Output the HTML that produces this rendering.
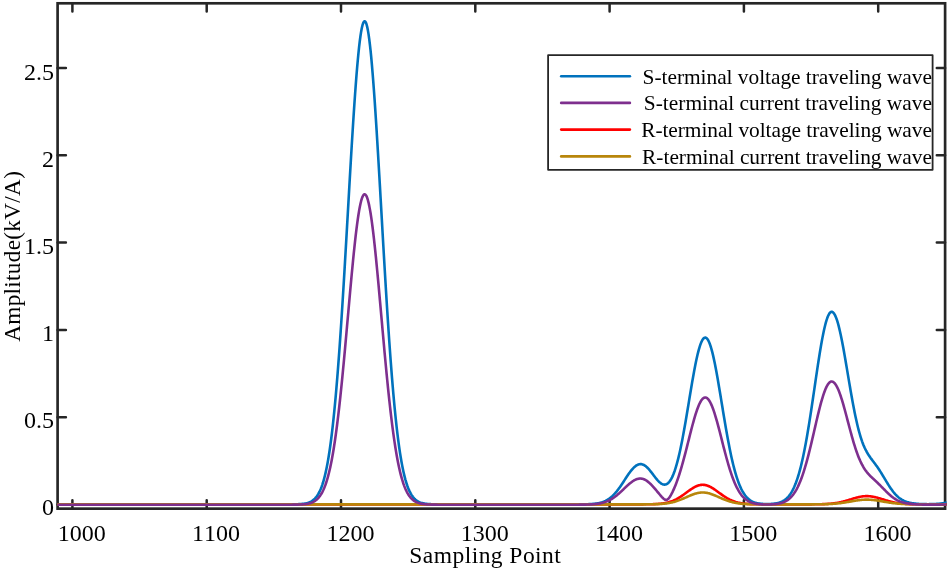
<!DOCTYPE html>
<html lang="en"><head><meta charset="utf-8"><title>Traveling wave amplitude</title>
<style>html,body{margin:0;padding:0;background:#fff;}svg{display:block;}text{font-kerning:none;font-family:"Liberation Serif","Times New Roman",serif;fill:#000;}</style></head><body>
<svg width="948" height="570" viewBox="0 0 948 570">
<rect width="948" height="570" fill="#fff"/>
<defs><clipPath id="c"><rect x="57.60" y="3.30" width="889.00" height="505.35"/></clipPath></defs>
<g stroke="#262626" stroke-width="2.50" fill="none" stroke-linecap="round">
<path d="M72.40,508.65 v-8.30 M72.40,3.30 v8.30"/>
<path d="M206.70,508.65 v-8.30 M206.70,3.30 v8.30"/>
<path d="M341.00,508.65 v-8.30 M341.00,3.30 v8.30"/>
<path d="M475.30,508.65 v-8.30 M475.30,3.30 v8.30"/>
<path d="M609.60,508.65 v-8.30 M609.60,3.30 v8.30"/>
<path d="M743.90,508.65 v-8.30 M743.90,3.30 v8.30"/>
<path d="M878.20,508.65 v-8.30 M878.20,3.30 v8.30"/>
<path d="M57.60,504.50 h8.30 M945.10,504.50 h-8.30"/>
<path d="M57.60,417.20 h8.30 M945.10,417.20 h-8.30"/>
<path d="M57.60,329.90 h8.30 M945.10,329.90 h-8.30"/>
<path d="M57.60,242.60 h8.30 M945.10,242.60 h-8.30"/>
<path d="M57.60,155.30 h8.30 M945.10,155.30 h-8.30"/>
<path d="M57.60,68.00 h8.30 M945.10,68.00 h-8.30"/>
</g>
<rect x="57.60" y="3.30" width="887.50" height="505.35" fill="none" stroke="#262626" stroke-width="2.67"/>
<g fill="none" stroke-width="2.60" stroke-linejoin="round" clip-path="url(#c)">
<path d="M52.26,504.35 L52.93,504.35 L53.60,504.35 L54.27,504.35 L54.94,504.35 L55.61,504.35 L56.28,504.35 L56.96,504.35 L57.63,504.35 L58.30,504.35 L58.97,504.35 L59.64,504.35 L60.31,504.35 L60.98,504.35 L61.66,504.35 L62.33,504.35 L63.00,504.35 L63.67,504.35 L64.34,504.35 L65.01,504.35 L65.69,504.35 L66.36,504.35 L67.03,504.35 L67.70,504.35 L68.37,504.35 L69.04,504.35 L69.71,504.35 L70.39,504.35 L71.06,504.35 L71.73,504.35 L72.40,504.35 L73.07,504.35 L73.74,504.35 L74.41,504.35 L75.09,504.35 L75.76,504.35 L76.43,504.35 L77.10,504.35 L77.77,504.35 L78.44,504.35 L79.12,504.35 L79.79,504.35 L80.46,504.35 L81.13,504.35 L81.80,504.35 L82.47,504.35 L83.14,504.35 L83.82,504.35 L84.49,504.35 L85.16,504.35 L85.83,504.35 L86.50,504.35 L87.17,504.35 L87.84,504.35 L88.52,504.35 L89.19,504.35 L89.86,504.35 L90.53,504.35 L91.20,504.35 L91.87,504.35 L92.55,504.35 L93.22,504.35 L93.89,504.35 L94.56,504.35 L95.23,504.35 L95.90,504.35 L96.57,504.35 L97.25,504.35 L97.92,504.35 L98.59,504.35 L99.26,504.35 L99.93,504.35 L100.60,504.35 L101.27,504.35 L101.95,504.35 L102.62,504.35 L103.29,504.35 L103.96,504.35 L104.63,504.35 L105.30,504.35 L105.98,504.35 L106.65,504.35 L107.32,504.35 L107.99,504.35 L108.66,504.35 L109.33,504.35 L110.00,504.35 L110.68,504.35 L111.35,504.35 L112.02,504.35 L112.69,504.35 L113.36,504.35 L114.03,504.35 L114.70,504.35 L115.38,504.35 L116.05,504.35 L116.72,504.35 L117.39,504.35 L118.06,504.35 L118.73,504.35 L119.41,504.35 L120.08,504.35 L120.75,504.35 L121.42,504.35 L122.09,504.35 L122.76,504.35 L123.43,504.35 L124.11,504.35 L124.78,504.35 L125.45,504.35 L126.12,504.35 L126.79,504.35 L127.46,504.35 L128.13,504.35 L128.81,504.35 L129.48,504.35 L130.15,504.35 L130.82,504.35 L131.49,504.35 L132.16,504.35 L132.84,504.35 L133.51,504.35 L134.18,504.35 L134.85,504.35 L135.52,504.35 L136.19,504.35 L136.86,504.35 L137.54,504.35 L138.21,504.35 L138.88,504.35 L139.55,504.35 L140.22,504.35 L140.89,504.35 L141.56,504.35 L142.24,504.35 L142.91,504.35 L143.58,504.35 L144.25,504.35 L144.92,504.35 L145.59,504.35 L146.26,504.35 L146.94,504.35 L147.61,504.35 L148.28,504.35 L148.95,504.35 L149.62,504.35 L150.29,504.35 L150.97,504.35 L151.64,504.35 L152.31,504.35 L152.98,504.35 L153.65,504.35 L154.32,504.35 L154.99,504.35 L155.67,504.35 L156.34,504.35 L157.01,504.35 L157.68,504.35 L158.35,504.35 L159.02,504.35 L159.69,504.35 L160.37,504.35 L161.04,504.35 L161.71,504.35 L162.38,504.35 L163.05,504.35 L163.72,504.35 L164.40,504.35 L165.07,504.35 L165.74,504.35 L166.41,504.35 L167.08,504.35 L167.75,504.35 L168.42,504.35 L169.10,504.35 L169.77,504.35 L170.44,504.35 L171.11,504.35 L171.78,504.35 L172.45,504.35 L173.12,504.35 L173.80,504.35 L174.47,504.35 L175.14,504.35 L175.81,504.35 L176.48,504.35 L177.15,504.35 L177.83,504.35 L178.50,504.35 L179.17,504.35 L179.84,504.35 L180.51,504.35 L181.18,504.35 L181.85,504.35 L182.53,504.35 L183.20,504.35 L183.87,504.35 L184.54,504.35 L185.21,504.35 L185.88,504.35 L186.56,504.35 L187.23,504.35 L187.90,504.35 L188.57,504.35 L189.24,504.35 L189.91,504.35 L190.58,504.35 L191.26,504.35 L191.93,504.35 L192.60,504.35 L193.27,504.35 L193.94,504.35 L194.61,504.35 L195.28,504.35 L195.96,504.35 L196.63,504.35 L197.30,504.35 L197.97,504.35 L198.64,504.35 L199.31,504.35 L199.99,504.35 L200.66,504.35 L201.33,504.35 L202.00,504.35 L202.67,504.35 L203.34,504.35 L204.01,504.35 L204.69,504.35 L205.36,504.35 L206.03,504.35 L206.70,504.35 L207.37,504.35 L208.04,504.35 L208.71,504.35 L209.39,504.35 L210.06,504.35 L210.73,504.35 L211.40,504.35 L212.07,504.35 L212.74,504.35 L213.41,504.35 L214.09,504.35 L214.76,504.35 L215.43,504.35 L216.10,504.35 L216.77,504.35 L217.44,504.35 L218.12,504.35 L218.79,504.35 L219.46,504.35 L220.13,504.35 L220.80,504.35 L221.47,504.35 L222.14,504.35 L222.82,504.35 L223.49,504.35 L224.16,504.35 L224.83,504.35 L225.50,504.35 L226.17,504.35 L226.84,504.35 L227.52,504.35 L228.19,504.35 L228.86,504.35 L229.53,504.35 L230.20,504.35 L230.87,504.35 L231.55,504.35 L232.22,504.35 L232.89,504.35 L233.56,504.35 L234.23,504.35 L234.90,504.35 L235.57,504.35 L236.25,504.35 L236.92,504.35 L237.59,504.35 L238.26,504.35 L238.93,504.35 L239.60,504.35 L240.28,504.35 L240.95,504.35 L241.62,504.35 L242.29,504.35 L242.96,504.35 L243.63,504.35 L244.30,504.35 L244.98,504.35 L245.65,504.35 L246.32,504.35 L246.99,504.35 L247.66,504.35 L248.33,504.35 L249.00,504.35 L249.68,504.35 L250.35,504.35 L251.02,504.35 L251.69,504.35 L252.36,504.35 L253.03,504.35 L253.71,504.35 L254.38,504.35 L255.05,504.35 L255.72,504.35 L256.39,504.35 L257.06,504.35 L257.73,504.35 L258.41,504.35 L259.08,504.35 L259.75,504.35 L260.42,504.35 L261.09,504.35 L261.76,504.35 L262.43,504.35 L263.11,504.35 L263.78,504.35 L264.45,504.35 L265.12,504.35 L265.79,504.35 L266.46,504.35 L267.13,504.35 L267.81,504.35 L268.48,504.35 L269.15,504.35 L269.82,504.35 L270.49,504.35 L271.16,504.35 L271.84,504.35 L272.51,504.35 L273.18,504.35 L273.85,504.35 L274.52,504.35 L275.19,504.35 L275.86,504.35 L276.54,504.35 L277.21,504.35 L277.88,504.35 L278.55,504.35 L279.22,504.35 L279.89,504.35 L280.56,504.35 L281.24,504.35 L281.91,504.35 L282.58,504.35 L283.25,504.35 L283.92,504.35 L284.59,504.34 L285.27,504.34 L285.94,504.34 L286.61,504.34 L287.28,504.34 L287.95,504.34 L288.62,504.33 L289.29,504.33 L289.97,504.33 L290.64,504.32 L291.31,504.32 L291.98,504.31 L292.65,504.30 L293.32,504.30 L294.00,504.29 L294.67,504.27 L295.34,504.26 L296.01,504.24 L296.68,504.22 L297.35,504.20 L298.02,504.18 L298.70,504.15 L299.37,504.11 L300.04,504.07 L300.71,504.03 L301.38,503.97 L302.05,503.91 L302.72,503.84 L303.40,503.76 L304.07,503.67 L304.74,503.56 L305.41,503.44 L306.08,503.30 L306.75,503.14 L307.43,502.96 L308.10,502.76 L308.77,502.53 L309.44,502.27 L310.11,501.98 L310.78,501.65 L311.45,501.28 L312.13,500.86 L312.80,500.40 L313.47,499.88 L314.14,499.30 L314.81,498.65 L315.48,497.93 L316.15,497.13 L316.83,496.25 L317.50,495.27 L318.17,494.19 L318.84,493.00 L319.51,491.69 L320.18,490.25 L320.86,488.68 L321.53,486.95 L322.20,485.07 L322.87,483.02 L323.54,480.78 L324.21,478.36 L324.88,475.73 L325.56,472.89 L326.23,469.82 L326.90,466.52 L327.57,462.96 L328.24,459.14 L328.91,455.05 L329.58,450.68 L330.26,446.01 L330.93,441.04 L331.60,435.76 L332.27,430.15 L332.94,424.22 L333.61,417.95 L334.28,411.34 L334.96,404.39 L335.63,397.09 L336.30,389.44 L336.97,381.45 L337.64,373.11 L338.31,364.43 L338.99,355.42 L339.66,346.08 L340.33,336.43 L341.00,326.48 L341.67,316.24 L342.34,305.73 L343.01,294.98 L343.69,283.99 L344.36,272.81 L345.03,261.45 L345.70,249.94 L346.37,238.32 L347.04,226.61 L347.72,214.85 L348.39,203.09 L349.06,191.35 L349.73,179.68 L350.40,168.11 L351.07,156.70 L351.74,145.47 L352.42,134.49 L353.09,123.77 L353.76,113.38 L354.43,103.36 L355.10,93.74 L355.77,84.56 L356.44,75.88 L357.12,67.71 L357.79,60.11 L358.46,53.11 L359.13,46.73 L359.80,41.01 L360.47,35.98 L361.14,31.65 L361.82,28.06 L362.49,25.20 L363.16,23.11 L363.83,21.79 L364.50,21.25 L365.17,21.48 L365.85,22.49 L366.52,24.28 L367.19,26.83 L367.86,30.13 L368.53,34.16 L369.20,38.92 L369.87,44.36 L370.55,50.48 L371.22,57.24 L371.89,64.60 L372.56,72.55 L373.23,81.03 L373.90,90.01 L374.58,99.46 L375.25,109.33 L375.92,119.58 L376.59,130.17 L377.26,141.05 L377.93,152.18 L378.60,163.53 L379.28,175.04 L379.95,186.67 L380.62,198.39 L381.29,210.15 L381.96,221.91 L382.63,233.64 L383.30,245.30 L383.98,256.86 L384.65,268.28 L385.32,279.54 L385.99,290.61 L386.66,301.46 L387.33,312.07 L388.00,322.42 L388.68,332.49 L389.35,342.26 L390.02,351.72 L390.69,360.87 L391.36,369.68 L392.03,378.15 L392.71,386.29 L393.38,394.07 L394.05,401.51 L394.72,408.60 L395.39,415.35 L396.06,421.75 L396.73,427.82 L397.41,433.56 L398.08,438.97 L398.75,444.06 L399.42,448.85 L400.09,453.34 L400.76,457.54 L401.43,461.47 L402.11,465.13 L402.78,468.53 L403.45,471.69 L404.12,474.62 L404.79,477.33 L405.46,479.84 L406.14,482.15 L406.81,484.27 L407.48,486.22 L408.15,488.00 L408.82,489.64 L409.49,491.13 L410.16,492.49 L410.84,493.73 L411.51,494.85 L412.18,495.87 L412.85,496.79 L413.52,497.62 L414.19,498.37 L414.87,499.05 L415.54,499.65 L416.21,500.20 L416.88,500.68 L417.55,501.12 L418.22,501.51 L418.89,501.85 L419.57,502.16 L420.24,502.43 L420.91,502.67 L421.58,502.89 L422.25,503.07 L422.92,503.24 L423.59,503.39 L424.27,503.51 L424.94,503.63 L425.61,503.72 L426.28,503.81 L426.95,503.88 L427.62,503.95 L428.29,504.01 L428.97,504.06 L429.64,504.10 L430.31,504.13 L430.98,504.17 L431.65,504.19 L432.32,504.22 L433.00,504.24 L433.67,504.25 L434.34,504.27 L435.01,504.28 L435.68,504.29 L436.35,504.30 L437.02,504.31 L437.70,504.32 L438.37,504.32 L439.04,504.33 L439.71,504.33 L440.38,504.33 L441.05,504.34 L441.73,504.34 L442.40,504.34 L443.07,504.34 L443.74,504.34 L444.41,504.34 L445.08,504.35 L445.75,504.35 L446.43,504.35 L447.10,504.35 L447.77,504.35 L448.44,504.35 L449.11,504.35 L449.78,504.35 L450.45,504.35 L451.13,504.35 L451.80,504.35 L452.47,504.35 L453.14,504.35 L453.81,504.35 L454.48,504.35 L455.15,504.35 L455.83,504.35 L456.50,504.35 L457.17,504.35 L457.84,504.35 L458.51,504.35 L459.18,504.35 L459.86,504.35 L460.53,504.35 L461.20,504.35 L461.87,504.35 L462.54,504.35 L463.21,504.35 L463.88,504.35 L464.56,504.35 L465.23,504.35 L465.90,504.35 L466.57,504.35 L467.24,504.35 L467.91,504.35 L468.59,504.35 L469.26,504.35 L469.93,504.35 L470.60,504.35 L471.27,504.35 L471.94,504.35 L472.61,504.35 L473.29,504.35 L473.96,504.35 L474.63,504.35 L475.30,504.35 L475.97,504.35 L476.64,504.35 L477.31,504.35 L477.99,504.35 L478.66,504.35 L479.33,504.35 L480.00,504.35 L480.67,504.35 L481.34,504.35 L482.01,504.35 L482.69,504.35 L483.36,504.35 L484.03,504.35 L484.70,504.35 L485.37,504.35 L486.04,504.35 L486.72,504.35 L487.39,504.35 L488.06,504.35 L488.73,504.35 L489.40,504.35 L490.07,504.35 L490.74,504.35 L491.42,504.35 L492.09,504.35 L492.76,504.35 L493.43,504.35 L494.10,504.35 L494.77,504.35 L495.45,504.35 L496.12,504.35 L496.79,504.35 L497.46,504.35 L498.13,504.35 L498.80,504.35 L499.47,504.35 L500.15,504.35 L500.82,504.35 L501.49,504.35 L502.16,504.35 L502.83,504.35 L503.50,504.35 L504.17,504.35 L504.85,504.35 L505.52,504.35 L506.19,504.35 L506.86,504.35 L507.53,504.35 L508.20,504.35 L508.88,504.35 L509.55,504.35 L510.22,504.35 L510.89,504.35 L511.56,504.35 L512.23,504.35 L512.90,504.35 L513.58,504.35 L514.25,504.35 L514.92,504.35 L515.59,504.35 L516.26,504.35 L516.93,504.35 L517.60,504.35 L518.28,504.35 L518.95,504.35 L519.62,504.35 L520.29,504.35 L520.96,504.35 L521.63,504.35 L522.30,504.35 L522.98,504.35 L523.65,504.35 L524.32,504.35 L524.99,504.35 L525.66,504.35 L526.33,504.35 L527.01,504.35 L527.68,504.35 L528.35,504.35 L529.02,504.35 L529.69,504.35 L530.36,504.35 L531.03,504.35 L531.71,504.35 L532.38,504.35 L533.05,504.35 L533.72,504.35 L534.39,504.35 L535.06,504.35 L535.74,504.35 L536.41,504.35 L537.08,504.35 L537.75,504.35 L538.42,504.35 L539.09,504.35 L539.76,504.35 L540.44,504.35 L541.11,504.35 L541.78,504.35 L542.45,504.35 L543.12,504.35 L543.79,504.35 L544.46,504.35 L545.14,504.35 L545.81,504.35 L546.48,504.35 L547.15,504.35 L547.82,504.35 L548.49,504.35 L549.16,504.35 L549.84,504.35 L550.51,504.35 L551.18,504.35 L551.85,504.35 L552.52,504.35 L553.19,504.35 L553.87,504.35 L554.54,504.35 L555.21,504.35 L555.88,504.35 L556.55,504.35 L557.22,504.35 L557.89,504.35 L558.57,504.35 L559.24,504.35 L559.91,504.35 L560.58,504.35 L561.25,504.35 L561.92,504.35 L562.60,504.35 L563.27,504.35 L563.94,504.35 L564.61,504.35 L565.28,504.35 L565.95,504.35 L566.62,504.35 L567.30,504.35 L567.97,504.35 L568.64,504.35 L569.31,504.35 L569.98,504.35 L570.65,504.35 L571.32,504.35 L572.00,504.35 L572.67,504.35 L573.34,504.34 L574.01,504.34 L574.68,504.34 L575.35,504.34 L576.02,504.34 L576.70,504.34 L577.37,504.34 L578.04,504.33 L578.71,504.33 L579.38,504.33 L580.05,504.32 L580.73,504.32 L581.40,504.31 L582.07,504.31 L582.74,504.30 L583.41,504.29 L584.08,504.28 L584.75,504.27 L585.43,504.25 L586.10,504.24 L586.77,504.22 L587.44,504.20 L588.11,504.18 L588.78,504.15 L589.45,504.13 L590.13,504.09 L590.80,504.06 L591.47,504.01 L592.14,503.97 L592.81,503.92 L593.48,503.86 L594.16,503.79 L594.83,503.72 L595.50,503.64 L596.17,503.55 L596.84,503.45 L597.51,503.33 L598.18,503.21 L598.86,503.08 L599.53,502.93 L600.20,502.76 L600.87,502.59 L601.54,502.39 L602.21,502.18 L602.88,501.95 L603.56,501.69 L604.23,501.42 L604.90,501.12 L605.57,500.81 L606.24,500.46 L606.91,500.09 L607.59,499.70 L608.26,499.27 L608.93,498.82 L609.60,498.34 L610.27,497.83 L610.94,497.29 L611.61,496.71 L612.29,496.11 L612.96,495.47 L613.63,494.80 L614.30,494.10 L614.97,493.37 L615.64,492.60 L616.31,491.80 L616.99,490.98 L617.66,490.12 L618.33,489.24 L619.00,488.33 L619.67,487.40 L620.34,486.45 L621.02,485.47 L621.69,484.48 L622.36,483.48 L623.03,482.46 L623.70,481.44 L624.37,480.40 L625.04,479.37 L625.72,478.34 L626.39,477.32 L627.06,476.30 L627.73,475.31 L628.40,474.32 L629.07,473.36 L629.75,472.43 L630.42,471.53 L631.09,470.66 L631.76,469.84 L632.43,469.05 L633.10,468.31 L633.77,467.63 L634.45,466.99 L635.12,466.41 L635.79,465.90 L636.46,465.44 L637.13,465.05 L637.80,464.72 L638.47,464.47 L639.15,464.28 L639.82,464.16 L640.49,464.11 L641.16,464.14 L641.83,464.24 L642.50,464.41 L643.17,464.66 L643.85,464.98 L644.52,465.36 L645.19,465.81 L645.86,466.33 L646.53,466.90 L647.20,467.53 L647.88,468.20 L648.55,468.92 L649.22,469.68 L649.89,470.48 L650.56,471.31 L651.23,472.16 L651.90,473.03 L652.58,473.91 L653.25,474.79 L653.92,475.68 L654.59,476.55 L655.26,477.42 L655.93,478.26 L656.61,479.08 L657.28,479.87 L657.95,480.61 L658.62,481.31 L659.29,481.96 L659.96,482.56 L660.63,483.09 L661.31,483.55 L661.98,483.93 L662.65,484.24 L663.32,484.46 L663.99,484.59 L664.66,484.62 L665.33,484.55 L666.01,484.38 L666.68,484.09 L667.35,483.69 L668.02,483.17 L668.69,482.53 L669.36,481.76 L670.03,480.86 L670.71,479.83 L671.38,478.66 L672.05,477.35 L672.72,475.90 L673.39,474.31 L674.06,472.57 L674.74,470.69 L675.41,468.66 L676.08,466.49 L676.75,464.17 L677.42,461.70 L678.09,459.09 L678.76,456.35 L679.44,453.46 L680.11,450.44 L680.78,447.29 L681.45,444.02 L682.12,440.63 L682.79,437.13 L683.46,433.53 L684.14,429.83 L684.81,426.04 L685.48,422.18 L686.15,418.25 L686.82,414.27 L687.49,410.24 L688.17,406.19 L688.84,402.12 L689.51,398.05 L690.18,393.99 L690.85,389.96 L691.52,385.97 L692.19,382.04 L692.87,378.18 L693.54,374.41 L694.21,370.75 L694.88,367.21 L695.55,363.80 L696.22,360.54 L696.89,357.45 L697.57,354.55 L698.24,351.83 L698.91,349.32 L699.58,347.03 L700.25,344.96 L700.92,343.14 L701.60,341.56 L702.27,340.24 L702.94,339.18 L703.61,338.39 L704.28,337.87 L704.95,337.62 L705.62,337.65 L706.30,337.96 L706.97,338.53 L707.64,339.38 L708.31,340.49 L708.98,341.87 L709.65,343.50 L710.32,345.38 L711.00,347.49 L711.67,349.83 L712.34,352.39 L713.01,355.15 L713.68,358.10 L714.35,361.24 L715.03,364.53 L715.70,367.98 L716.37,371.56 L717.04,375.26 L717.71,379.06 L718.38,382.95 L719.05,386.92 L719.73,390.94 L720.40,395.01 L721.07,399.11 L721.74,403.22 L722.41,407.32 L723.08,411.42 L723.75,415.49 L724.43,419.52 L725.10,423.50 L725.77,427.43 L726.44,431.28 L727.11,435.06 L727.78,438.74 L728.46,442.34 L729.13,445.83 L729.80,449.22 L730.47,452.50 L731.14,455.66 L731.81,458.71 L732.48,461.64 L733.16,464.44 L733.83,467.12 L734.50,469.68 L735.17,472.12 L735.84,474.43 L736.51,476.63 L737.18,478.70 L737.86,480.66 L738.53,482.51 L739.20,484.24 L739.87,485.87 L740.54,487.40 L741.21,488.82 L741.89,490.15 L742.56,491.38 L743.23,492.53 L743.90,493.60 L744.57,494.58 L745.24,495.49 L745.91,496.33 L746.59,497.10 L747.26,497.80 L747.93,498.45 L748.60,499.04 L749.27,499.59 L749.94,500.08 L750.62,500.53 L751.29,500.93 L751.96,501.30 L752.63,501.63 L753.30,501.93 L753.97,502.20 L754.64,502.44 L755.32,502.66 L755.99,502.86 L756.66,503.03 L757.33,503.18 L758.00,503.32 L758.67,503.44 L759.34,503.55 L760.02,503.64 L760.69,503.72 L761.36,503.79 L762.03,503.85 L762.70,503.90 L763.37,503.95 L764.04,503.98 L764.72,504.01 L765.39,504.03 L766.06,504.04 L766.73,504.05 L767.40,504.05 L768.07,504.04 L768.75,504.03 L769.42,504.01 L770.09,503.99 L770.76,503.95 L771.43,503.91 L772.10,503.87 L772.77,503.81 L773.45,503.74 L774.12,503.66 L774.79,503.58 L775.46,503.48 L776.13,503.36 L776.80,503.23 L777.47,503.09 L778.15,502.92 L778.82,502.74 L779.49,502.53 L780.16,502.31 L780.83,502.05 L781.50,501.77 L782.18,501.46 L782.85,501.11 L783.52,500.73 L784.19,500.31 L784.86,499.84 L785.53,499.33 L786.20,498.78 L786.88,498.16 L787.55,497.50 L788.22,496.77 L788.89,495.98 L789.56,495.12 L790.23,494.19 L790.90,493.18 L791.58,492.09 L792.25,490.91 L792.92,489.64 L793.59,488.28 L794.26,486.82 L794.93,485.26 L795.61,483.59 L796.28,481.81 L796.95,479.91 L797.62,477.90 L798.29,475.76 L798.96,473.50 L799.63,471.11 L800.31,468.60 L800.98,465.95 L801.65,463.17 L802.32,460.25 L802.99,457.21 L803.66,454.03 L804.33,450.72 L805.01,447.28 L805.68,443.71 L806.35,440.02 L807.02,436.22 L807.69,432.30 L808.36,428.27 L809.04,424.14 L809.71,419.91 L810.38,415.61 L811.05,411.22 L811.72,406.78 L812.39,402.28 L813.06,397.73 L813.74,393.16 L814.41,388.57 L815.08,383.97 L815.75,379.39 L816.42,374.84 L817.09,370.32 L817.76,365.87 L818.44,361.48 L819.11,357.19 L819.78,353.00 L820.45,348.94 L821.12,345.01 L821.79,341.23 L822.47,337.63 L823.14,334.20 L823.81,330.98 L824.48,327.97 L825.15,325.18 L825.82,322.63 L826.49,320.33 L827.17,318.29 L827.84,316.51 L828.51,315.02 L829.18,313.80 L829.85,312.87 L830.52,312.23 L831.19,311.88 L831.87,311.83 L832.54,312.05 L833.21,312.55 L833.88,313.31 L834.55,314.34 L835.22,315.62 L835.90,317.16 L836.57,318.94 L837.24,320.96 L837.91,323.20 L838.58,325.66 L839.25,328.33 L839.92,331.19 L840.60,334.22 L841.27,337.42 L841.94,340.77 L842.61,344.26 L843.28,347.86 L843.95,351.57 L844.62,355.37 L845.30,359.24 L845.97,363.17 L846.64,367.14 L847.31,371.13 L847.98,375.14 L848.65,379.13 L849.33,383.11 L850.00,387.05 L850.67,390.95 L851.34,394.78 L852.01,398.55 L852.68,402.23 L853.35,405.81 L854.03,409.30 L854.70,412.68 L855.37,415.93 L856.04,419.07 L856.71,422.08 L857.38,424.96 L858.05,427.70 L858.73,430.31 L859.40,432.78 L860.07,435.12 L860.74,437.33 L861.41,439.41 L862.08,441.36 L862.76,443.19 L863.43,444.91 L864.10,446.51 L864.77,448.02 L865.44,449.42 L866.11,450.74 L866.78,451.98 L867.46,453.15 L868.13,454.26 L868.80,455.31 L869.47,456.31 L870.14,457.28 L870.81,458.22 L871.49,459.13 L872.16,460.03 L872.83,460.92 L873.50,461.80 L874.17,462.69 L874.84,463.59 L875.51,464.49 L876.19,465.42 L876.86,466.36 L877.53,467.32 L878.20,468.30 L878.87,469.30 L879.54,470.32 L880.21,471.36 L880.89,472.42 L881.56,473.50 L882.23,474.60 L882.90,475.70 L883.57,476.82 L884.24,477.94 L884.91,479.06 L885.59,480.18 L886.26,481.30 L886.93,482.41 L887.60,483.50 L888.27,484.58 L888.94,485.64 L889.62,486.68 L890.29,487.69 L890.96,488.67 L891.63,489.62 L892.30,490.54 L892.97,491.42 L893.64,492.27 L894.32,493.08 L894.99,493.85 L895.66,494.59 L896.33,495.28 L897.00,495.94 L897.67,496.56 L898.34,497.14 L899.02,497.69 L899.69,498.20 L900.36,498.68 L901.03,499.12 L901.70,499.54 L902.37,499.92 L903.05,500.28 L903.72,500.61 L904.39,500.92 L905.06,501.20 L905.73,501.46 L906.40,501.70 L907.07,501.93 L907.75,502.13 L908.42,502.32 L909.09,502.50 L909.76,502.66 L910.43,502.81 L911.10,502.94 L911.77,503.07 L912.45,503.18 L913.12,503.29 L913.79,503.39 L914.46,503.48 L915.13,503.56 L915.80,503.64 L916.48,503.71 L917.15,503.77 L917.82,503.83 L918.49,503.88 L919.16,503.93 L919.83,503.97 L920.50,504.00 L921.18,504.04 L921.85,504.07 L922.52,504.09 L923.19,504.11 L923.86,504.13 L924.53,504.15 L925.20,504.16 L925.88,504.17 L926.55,504.17 L927.22,504.18 L927.89,504.18 L928.56,504.18 L929.23,504.17 L929.91,504.16 L930.58,504.15 L931.25,504.14 L931.92,504.12 L932.59,504.10 L933.26,504.08 L933.93,504.05 L934.61,504.02 L935.28,503.99 L935.95,503.95 L936.62,503.91 L937.29,503.87 L937.96,503.82 L938.63,503.76 L939.31,503.70 L939.98,503.64 L940.65,503.57 L941.32,503.49 L941.99,503.40 L942.66,503.31 L943.34,503.21 L944.01,503.10 L944.68,502.98 L945.35,502.85 L946.02,502.72 L946.69,502.57 L947.36,502.41 L948.04,502.23 L948.71,502.05 L949.38,501.85" stroke="#0072BD"/>
<path d="M52.26,504.35 L52.93,504.35 L53.60,504.35 L54.27,504.35 L54.94,504.35 L55.61,504.35 L56.28,504.35 L56.96,504.35 L57.63,504.35 L58.30,504.35 L58.97,504.35 L59.64,504.35 L60.31,504.35 L60.98,504.35 L61.66,504.35 L62.33,504.35 L63.00,504.35 L63.67,504.35 L64.34,504.35 L65.01,504.35 L65.69,504.35 L66.36,504.35 L67.03,504.35 L67.70,504.35 L68.37,504.35 L69.04,504.35 L69.71,504.35 L70.39,504.35 L71.06,504.35 L71.73,504.35 L72.40,504.35 L73.07,504.35 L73.74,504.35 L74.41,504.35 L75.09,504.35 L75.76,504.35 L76.43,504.35 L77.10,504.35 L77.77,504.35 L78.44,504.35 L79.12,504.35 L79.79,504.35 L80.46,504.35 L81.13,504.35 L81.80,504.35 L82.47,504.35 L83.14,504.35 L83.82,504.35 L84.49,504.35 L85.16,504.35 L85.83,504.35 L86.50,504.35 L87.17,504.35 L87.84,504.35 L88.52,504.35 L89.19,504.35 L89.86,504.35 L90.53,504.35 L91.20,504.35 L91.87,504.35 L92.55,504.35 L93.22,504.35 L93.89,504.35 L94.56,504.35 L95.23,504.35 L95.90,504.35 L96.57,504.35 L97.25,504.35 L97.92,504.35 L98.59,504.35 L99.26,504.35 L99.93,504.35 L100.60,504.35 L101.27,504.35 L101.95,504.35 L102.62,504.35 L103.29,504.35 L103.96,504.35 L104.63,504.35 L105.30,504.35 L105.98,504.35 L106.65,504.35 L107.32,504.35 L107.99,504.35 L108.66,504.35 L109.33,504.35 L110.00,504.35 L110.68,504.35 L111.35,504.35 L112.02,504.35 L112.69,504.35 L113.36,504.35 L114.03,504.35 L114.70,504.35 L115.38,504.35 L116.05,504.35 L116.72,504.35 L117.39,504.35 L118.06,504.35 L118.73,504.35 L119.41,504.35 L120.08,504.35 L120.75,504.35 L121.42,504.35 L122.09,504.35 L122.76,504.35 L123.43,504.35 L124.11,504.35 L124.78,504.35 L125.45,504.35 L126.12,504.35 L126.79,504.35 L127.46,504.35 L128.13,504.35 L128.81,504.35 L129.48,504.35 L130.15,504.35 L130.82,504.35 L131.49,504.35 L132.16,504.35 L132.84,504.35 L133.51,504.35 L134.18,504.35 L134.85,504.35 L135.52,504.35 L136.19,504.35 L136.86,504.35 L137.54,504.35 L138.21,504.35 L138.88,504.35 L139.55,504.35 L140.22,504.35 L140.89,504.35 L141.56,504.35 L142.24,504.35 L142.91,504.35 L143.58,504.35 L144.25,504.35 L144.92,504.35 L145.59,504.35 L146.26,504.35 L146.94,504.35 L147.61,504.35 L148.28,504.35 L148.95,504.35 L149.62,504.35 L150.29,504.35 L150.97,504.35 L151.64,504.35 L152.31,504.35 L152.98,504.35 L153.65,504.35 L154.32,504.35 L154.99,504.35 L155.67,504.35 L156.34,504.35 L157.01,504.35 L157.68,504.35 L158.35,504.35 L159.02,504.35 L159.69,504.35 L160.37,504.35 L161.04,504.35 L161.71,504.35 L162.38,504.35 L163.05,504.35 L163.72,504.35 L164.40,504.35 L165.07,504.35 L165.74,504.35 L166.41,504.35 L167.08,504.35 L167.75,504.35 L168.42,504.35 L169.10,504.35 L169.77,504.35 L170.44,504.35 L171.11,504.35 L171.78,504.35 L172.45,504.35 L173.12,504.35 L173.80,504.35 L174.47,504.35 L175.14,504.35 L175.81,504.35 L176.48,504.35 L177.15,504.35 L177.83,504.35 L178.50,504.35 L179.17,504.35 L179.84,504.35 L180.51,504.35 L181.18,504.35 L181.85,504.35 L182.53,504.35 L183.20,504.35 L183.87,504.35 L184.54,504.35 L185.21,504.35 L185.88,504.35 L186.56,504.35 L187.23,504.35 L187.90,504.35 L188.57,504.35 L189.24,504.35 L189.91,504.35 L190.58,504.35 L191.26,504.35 L191.93,504.35 L192.60,504.35 L193.27,504.35 L193.94,504.35 L194.61,504.35 L195.28,504.35 L195.96,504.35 L196.63,504.35 L197.30,504.35 L197.97,504.35 L198.64,504.35 L199.31,504.35 L199.99,504.35 L200.66,504.35 L201.33,504.35 L202.00,504.35 L202.67,504.35 L203.34,504.35 L204.01,504.35 L204.69,504.35 L205.36,504.35 L206.03,504.35 L206.70,504.35 L207.37,504.35 L208.04,504.35 L208.71,504.35 L209.39,504.35 L210.06,504.35 L210.73,504.35 L211.40,504.35 L212.07,504.35 L212.74,504.35 L213.41,504.35 L214.09,504.35 L214.76,504.35 L215.43,504.35 L216.10,504.35 L216.77,504.35 L217.44,504.35 L218.12,504.35 L218.79,504.35 L219.46,504.35 L220.13,504.35 L220.80,504.35 L221.47,504.35 L222.14,504.35 L222.82,504.35 L223.49,504.35 L224.16,504.35 L224.83,504.35 L225.50,504.35 L226.17,504.35 L226.84,504.35 L227.52,504.35 L228.19,504.35 L228.86,504.35 L229.53,504.35 L230.20,504.35 L230.87,504.35 L231.55,504.35 L232.22,504.35 L232.89,504.35 L233.56,504.35 L234.23,504.35 L234.90,504.35 L235.57,504.35 L236.25,504.35 L236.92,504.35 L237.59,504.35 L238.26,504.35 L238.93,504.35 L239.60,504.35 L240.28,504.35 L240.95,504.35 L241.62,504.35 L242.29,504.35 L242.96,504.35 L243.63,504.35 L244.30,504.35 L244.98,504.35 L245.65,504.35 L246.32,504.35 L246.99,504.35 L247.66,504.35 L248.33,504.35 L249.00,504.35 L249.68,504.35 L250.35,504.35 L251.02,504.35 L251.69,504.35 L252.36,504.35 L253.03,504.35 L253.71,504.35 L254.38,504.35 L255.05,504.35 L255.72,504.35 L256.39,504.35 L257.06,504.35 L257.73,504.35 L258.41,504.35 L259.08,504.35 L259.75,504.35 L260.42,504.35 L261.09,504.35 L261.76,504.35 L262.43,504.35 L263.11,504.35 L263.78,504.35 L264.45,504.35 L265.12,504.35 L265.79,504.35 L266.46,504.35 L267.13,504.35 L267.81,504.35 L268.48,504.35 L269.15,504.35 L269.82,504.35 L270.49,504.35 L271.16,504.35 L271.84,504.35 L272.51,504.35 L273.18,504.35 L273.85,504.35 L274.52,504.35 L275.19,504.35 L275.86,504.35 L276.54,504.35 L277.21,504.35 L277.88,504.35 L278.55,504.35 L279.22,504.35 L279.89,504.35 L280.56,504.35 L281.24,504.35 L281.91,504.35 L282.58,504.35 L283.25,504.35 L283.92,504.35 L284.59,504.35 L285.27,504.35 L285.94,504.35 L286.61,504.35 L287.28,504.35 L287.95,504.35 L288.62,504.35 L289.29,504.35 L289.97,504.35 L290.64,504.35 L291.31,504.35 L291.98,504.35 L292.65,504.35 L293.32,504.35 L294.00,504.35 L294.67,504.35 L295.34,504.35 L296.01,504.35 L296.68,504.35 L297.35,504.35 L298.02,504.35 L298.70,504.35 L299.37,504.35 L300.04,504.35 L300.71,504.35 L301.38,504.35 L302.05,504.35 L302.72,504.35 L303.40,504.35 L304.07,504.35 L304.74,504.35 L305.41,504.35 L306.08,504.35 L306.75,504.35 L307.43,504.35 L308.10,504.35 L308.77,504.35 L309.44,504.35 L310.11,504.35 L310.78,504.35 L311.45,504.35 L312.13,504.35 L312.80,504.35 L313.47,504.35 L314.14,504.35 L314.81,504.35 L315.48,504.35 L316.15,504.35 L316.83,504.35 L317.50,504.35 L318.17,504.35 L318.84,504.35 L319.51,504.35 L320.18,504.35 L320.86,504.35 L321.53,504.35 L322.20,504.35 L322.87,504.35 L323.54,504.35 L324.21,504.35 L324.88,504.35 L325.56,504.35 L326.23,504.35 L326.90,504.35 L327.57,504.35 L328.24,504.35 L328.91,504.35 L329.58,504.35 L330.26,504.35 L330.93,504.35 L331.60,504.35 L332.27,504.35 L332.94,504.35 L333.61,504.35 L334.28,504.35 L334.96,504.35 L335.63,504.35 L336.30,504.35 L336.97,504.35 L337.64,504.35 L338.31,504.35 L338.99,504.35 L339.66,504.35 L340.33,504.35 L341.00,504.35 L341.67,504.35 L342.34,504.35 L343.01,504.35 L343.69,504.35 L344.36,504.35 L345.03,504.35 L345.70,504.35 L346.37,504.35 L347.04,504.35 L347.72,504.35 L348.39,504.35 L349.06,504.35 L349.73,504.35 L350.40,504.35 L351.07,504.35 L351.74,504.35 L352.42,504.35 L353.09,504.35 L353.76,504.35 L354.43,504.35 L355.10,504.35 L355.77,504.35 L356.44,504.35 L357.12,504.35 L357.79,504.35 L358.46,504.35 L359.13,504.35 L359.80,504.35 L360.47,504.35 L361.14,504.35 L361.82,504.35 L362.49,504.35 L363.16,504.35 L363.83,504.35 L364.50,504.35 L365.17,504.35 L365.85,504.35 L366.52,504.35 L367.19,504.35 L367.86,504.35 L368.53,504.35 L369.20,504.35 L369.87,504.35 L370.55,504.35 L371.22,504.35 L371.89,504.35 L372.56,504.35 L373.23,504.35 L373.90,504.35 L374.58,504.35 L375.25,504.35 L375.92,504.35 L376.59,504.35 L377.26,504.35 L377.93,504.35 L378.60,504.35 L379.28,504.35 L379.95,504.35 L380.62,504.35 L381.29,504.35 L381.96,504.35 L382.63,504.35 L383.30,504.35 L383.98,504.35 L384.65,504.35 L385.32,504.35 L385.99,504.35 L386.66,504.35 L387.33,504.35 L388.00,504.35 L388.68,504.35 L389.35,504.35 L390.02,504.35 L390.69,504.35 L391.36,504.35 L392.03,504.35 L392.71,504.35 L393.38,504.35 L394.05,504.35 L394.72,504.35 L395.39,504.35 L396.06,504.35 L396.73,504.35 L397.41,504.35 L398.08,504.35 L398.75,504.35 L399.42,504.35 L400.09,504.35 L400.76,504.35 L401.43,504.35 L402.11,504.35 L402.78,504.35 L403.45,504.35 L404.12,504.35 L404.79,504.35 L405.46,504.35 L406.14,504.35 L406.81,504.35 L407.48,504.35 L408.15,504.35 L408.82,504.35 L409.49,504.35 L410.16,504.35 L410.84,504.35 L411.51,504.35 L412.18,504.35 L412.85,504.35 L413.52,504.35 L414.19,504.35 L414.87,504.35 L415.54,504.35 L416.21,504.35 L416.88,504.35 L417.55,504.35 L418.22,504.35 L418.89,504.35 L419.57,504.35 L420.24,504.35 L420.91,504.35 L421.58,504.35 L422.25,504.35 L422.92,504.35 L423.59,504.35 L424.27,504.35 L424.94,504.35 L425.61,504.35 L426.28,504.35 L426.95,504.35 L427.62,504.35 L428.29,504.35 L428.97,504.35 L429.64,504.35 L430.31,504.35 L430.98,504.35 L431.65,504.35 L432.32,504.35 L433.00,504.35 L433.67,504.35 L434.34,504.35 L435.01,504.35 L435.68,504.35 L436.35,504.35 L437.02,504.35 L437.70,504.35 L438.37,504.35 L439.04,504.35 L439.71,504.35 L440.38,504.35 L441.05,504.35 L441.73,504.35 L442.40,504.35 L443.07,504.35 L443.74,504.35 L444.41,504.35 L445.08,504.35 L445.75,504.35 L446.43,504.35 L447.10,504.35 L447.77,504.35 L448.44,504.35 L449.11,504.35 L449.78,504.35 L450.45,504.35 L451.13,504.35 L451.80,504.35 L452.47,504.35 L453.14,504.35 L453.81,504.35 L454.48,504.35 L455.15,504.35 L455.83,504.35 L456.50,504.35 L457.17,504.35 L457.84,504.35 L458.51,504.35 L459.18,504.35 L459.86,504.35 L460.53,504.35 L461.20,504.35 L461.87,504.35 L462.54,504.35 L463.21,504.35 L463.88,504.35 L464.56,504.35 L465.23,504.35 L465.90,504.35 L466.57,504.35 L467.24,504.35 L467.91,504.35 L468.59,504.35 L469.26,504.35 L469.93,504.35 L470.60,504.35 L471.27,504.35 L471.94,504.35 L472.61,504.35 L473.29,504.35 L473.96,504.35 L474.63,504.35 L475.30,504.35 L475.97,504.35 L476.64,504.35 L477.31,504.35 L477.99,504.35 L478.66,504.35 L479.33,504.35 L480.00,504.35 L480.67,504.35 L481.34,504.35 L482.01,504.35 L482.69,504.35 L483.36,504.35 L484.03,504.35 L484.70,504.35 L485.37,504.35 L486.04,504.35 L486.72,504.35 L487.39,504.35 L488.06,504.35 L488.73,504.35 L489.40,504.35 L490.07,504.35 L490.74,504.35 L491.42,504.35 L492.09,504.35 L492.76,504.35 L493.43,504.35 L494.10,504.35 L494.77,504.35 L495.45,504.35 L496.12,504.35 L496.79,504.35 L497.46,504.35 L498.13,504.35 L498.80,504.35 L499.47,504.35 L500.15,504.35 L500.82,504.35 L501.49,504.35 L502.16,504.35 L502.83,504.35 L503.50,504.35 L504.17,504.35 L504.85,504.35 L505.52,504.35 L506.19,504.35 L506.86,504.35 L507.53,504.35 L508.20,504.35 L508.88,504.35 L509.55,504.35 L510.22,504.35 L510.89,504.35 L511.56,504.35 L512.23,504.35 L512.90,504.35 L513.58,504.35 L514.25,504.35 L514.92,504.35 L515.59,504.35 L516.26,504.35 L516.93,504.35 L517.60,504.35 L518.28,504.35 L518.95,504.35 L519.62,504.35 L520.29,504.35 L520.96,504.35 L521.63,504.35 L522.30,504.35 L522.98,504.35 L523.65,504.35 L524.32,504.35 L524.99,504.35 L525.66,504.35 L526.33,504.35 L527.01,504.35 L527.68,504.35 L528.35,504.35 L529.02,504.35 L529.69,504.35 L530.36,504.35 L531.03,504.35 L531.71,504.35 L532.38,504.35 L533.05,504.35 L533.72,504.35 L534.39,504.35 L535.06,504.35 L535.74,504.35 L536.41,504.35 L537.08,504.35 L537.75,504.35 L538.42,504.35 L539.09,504.35 L539.76,504.35 L540.44,504.35 L541.11,504.35 L541.78,504.35 L542.45,504.35 L543.12,504.35 L543.79,504.35 L544.46,504.35 L545.14,504.35 L545.81,504.35 L546.48,504.35 L547.15,504.35 L547.82,504.35 L548.49,504.35 L549.16,504.35 L549.84,504.35 L550.51,504.35 L551.18,504.35 L551.85,504.35 L552.52,504.35 L553.19,504.35 L553.87,504.35 L554.54,504.35 L555.21,504.35 L555.88,504.35 L556.55,504.35 L557.22,504.35 L557.89,504.35 L558.57,504.35 L559.24,504.35 L559.91,504.35 L560.58,504.35 L561.25,504.35 L561.92,504.35 L562.60,504.35 L563.27,504.35 L563.94,504.35 L564.61,504.35 L565.28,504.35 L565.95,504.35 L566.62,504.35 L567.30,504.35 L567.97,504.35 L568.64,504.35 L569.31,504.35 L569.98,504.35 L570.65,504.35 L571.32,504.35 L572.00,504.35 L572.67,504.35 L573.34,504.35 L574.01,504.35 L574.68,504.35 L575.35,504.35 L576.02,504.35 L576.70,504.35 L577.37,504.35 L578.04,504.35 L578.71,504.35 L579.38,504.35 L580.05,504.35 L580.73,504.35 L581.40,504.35 L582.07,504.35 L582.74,504.35 L583.41,504.35 L584.08,504.35 L584.75,504.35 L585.43,504.35 L586.10,504.35 L586.77,504.35 L587.44,504.35 L588.11,504.35 L588.78,504.35 L589.45,504.35 L590.13,504.35 L590.80,504.35 L591.47,504.35 L592.14,504.35 L592.81,504.35 L593.48,504.35 L594.16,504.35 L594.83,504.35 L595.50,504.35 L596.17,504.35 L596.84,504.35 L597.51,504.35 L598.18,504.35 L598.86,504.35 L599.53,504.35 L600.20,504.35 L600.87,504.35 L601.54,504.35 L602.21,504.35 L602.88,504.35 L603.56,504.35 L604.23,504.35 L604.90,504.35 L605.57,504.35 L606.24,504.35 L606.91,504.35 L607.59,504.35 L608.26,504.35 L608.93,504.35 L609.60,504.35 L610.27,504.35 L610.94,504.35 L611.61,504.35 L612.29,504.35 L612.96,504.35 L613.63,504.35 L614.30,504.35 L614.97,504.35 L615.64,504.35 L616.31,504.35 L616.99,504.35 L617.66,504.35 L618.33,504.35 L619.00,504.35 L619.67,504.35 L620.34,504.35 L621.02,504.35 L621.69,504.35 L622.36,504.35 L623.03,504.35 L623.70,504.35 L624.37,504.35 L625.04,504.35 L625.72,504.35 L626.39,504.35 L627.06,504.35 L627.73,504.35 L628.40,504.35 L629.07,504.35 L629.75,504.35 L630.42,504.35 L631.09,504.35 L631.76,504.35 L632.43,504.35 L633.10,504.35 L633.77,504.35 L634.45,504.35 L635.12,504.35 L635.79,504.35 L636.46,504.35 L637.13,504.34 L637.80,504.34 L638.47,504.34 L639.15,504.34 L639.82,504.34 L640.49,504.34 L641.16,504.34 L641.83,504.33 L642.50,504.33 L643.17,504.33 L643.85,504.32 L644.52,504.32 L645.19,504.32 L645.86,504.31 L646.53,504.30 L647.20,504.30 L647.88,504.29 L648.55,504.28 L649.22,504.27 L649.89,504.26 L650.56,504.25 L651.23,504.23 L651.90,504.21 L652.58,504.19 L653.25,504.17 L653.92,504.15 L654.59,504.12 L655.26,504.09 L655.93,504.06 L656.61,504.02 L657.28,503.98 L657.95,503.93 L658.62,503.88 L659.29,503.83 L659.96,503.77 L660.63,503.70 L661.31,503.62 L661.98,503.54 L662.65,503.45 L663.32,503.36 L663.99,503.25 L664.66,503.14 L665.33,503.01 L666.01,502.88 L666.68,502.73 L667.35,502.58 L668.02,502.41 L668.69,502.23 L669.36,502.04 L670.03,501.83 L670.71,501.61 L671.38,501.38 L672.05,501.13 L672.72,500.87 L673.39,500.59 L674.06,500.30 L674.74,500.00 L675.41,499.67 L676.08,499.34 L676.75,498.99 L677.42,498.62 L678.09,498.24 L678.76,497.84 L679.44,497.43 L680.11,497.01 L680.78,496.58 L681.45,496.13 L682.12,495.68 L682.79,495.21 L683.46,494.74 L684.14,494.26 L684.81,493.77 L685.48,493.28 L686.15,492.79 L686.82,492.29 L687.49,491.80 L688.17,491.31 L688.84,490.82 L689.51,490.34 L690.18,489.87 L690.85,489.41 L691.52,488.96 L692.19,488.52 L692.87,488.10 L693.54,487.70 L694.21,487.31 L694.88,486.95 L695.55,486.61 L696.22,486.30 L696.89,486.01 L697.57,485.75 L698.24,485.52 L698.91,485.32 L699.58,485.15 L700.25,485.01 L700.92,484.91 L701.60,484.84 L702.27,484.80 L702.94,484.80 L703.61,484.83 L704.28,484.89 L704.95,484.99 L705.62,485.12 L706.30,485.28 L706.97,485.48 L707.64,485.70 L708.31,485.96 L708.98,486.24 L709.65,486.55 L710.32,486.88 L711.00,487.24 L711.67,487.62 L712.34,488.02 L713.01,488.43 L713.68,488.87 L714.35,489.31 L715.03,489.77 L715.70,490.24 L716.37,490.72 L717.04,491.21 L717.71,491.70 L718.38,492.19 L719.05,492.69 L719.73,493.18 L720.40,493.67 L721.07,494.16 L721.74,494.64 L722.41,495.12 L723.08,495.58 L723.75,496.04 L724.43,496.49 L725.10,496.92 L725.77,497.35 L726.44,497.76 L727.11,498.16 L727.78,498.54 L728.46,498.91 L729.13,499.27 L729.80,499.61 L730.47,499.93 L731.14,500.24 L731.81,500.54 L732.48,500.82 L733.16,501.08 L733.83,501.33 L734.50,501.57 L735.17,501.79 L735.84,502.00 L736.51,502.19 L737.18,502.38 L737.86,502.55 L738.53,502.70 L739.20,502.85 L739.87,502.99 L740.54,503.11 L741.21,503.23 L741.89,503.34 L742.56,503.44 L743.23,503.53 L743.90,503.61 L744.57,503.68 L745.24,503.75 L745.91,503.82 L746.59,503.87 L747.26,503.92 L747.93,503.97 L748.60,504.01 L749.27,504.05 L749.94,504.09 L750.62,504.12 L751.29,504.14 L751.96,504.17 L752.63,504.19 L753.30,504.21 L753.97,504.23 L754.64,504.24 L755.32,504.26 L755.99,504.27 L756.66,504.28 L757.33,504.29 L758.00,504.30 L758.67,504.30 L759.34,504.31 L760.02,504.32 L760.69,504.32 L761.36,504.32 L762.03,504.33 L762.70,504.33 L763.37,504.33 L764.04,504.34 L764.72,504.34 L765.39,504.34 L766.06,504.34 L766.73,504.34 L767.40,504.34 L768.07,504.34 L768.75,504.35 L769.42,504.35 L770.09,504.35 L770.76,504.35 L771.43,504.35 L772.10,504.35 L772.77,504.35 L773.45,504.35 L774.12,504.35 L774.79,504.35 L775.46,504.35 L776.13,504.35 L776.80,504.35 L777.47,504.35 L778.15,504.35 L778.82,504.35 L779.49,504.35 L780.16,504.35 L780.83,504.35 L781.50,504.35 L782.18,504.35 L782.85,504.35 L783.52,504.35 L784.19,504.35 L784.86,504.35 L785.53,504.35 L786.20,504.35 L786.88,504.35 L787.55,504.35 L788.22,504.35 L788.89,504.35 L789.56,504.35 L790.23,504.35 L790.90,504.35 L791.58,504.35 L792.25,504.35 L792.92,504.35 L793.59,504.35 L794.26,504.35 L794.93,504.35 L795.61,504.35 L796.28,504.35 L796.95,504.35 L797.62,504.35 L798.29,504.35 L798.96,504.35 L799.63,504.35 L800.31,504.35 L800.98,504.35 L801.65,504.35 L802.32,504.35 L802.99,504.35 L803.66,504.35 L804.33,504.35 L805.01,504.34 L805.68,504.34 L806.35,504.34 L807.02,504.34 L807.69,504.34 L808.36,504.34 L809.04,504.34 L809.71,504.33 L810.38,504.33 L811.05,504.33 L811.72,504.33 L812.39,504.32 L813.06,504.32 L813.74,504.31 L814.41,504.31 L815.08,504.30 L815.75,504.30 L816.42,504.29 L817.09,504.28 L817.76,504.27 L818.44,504.26 L819.11,504.25 L819.78,504.23 L820.45,504.22 L821.12,504.20 L821.79,504.18 L822.47,504.16 L823.14,504.14 L823.81,504.12 L824.48,504.09 L825.15,504.06 L825.82,504.03 L826.49,503.99 L827.17,503.95 L827.84,503.91 L828.51,503.86 L829.18,503.81 L829.85,503.76 L830.52,503.70 L831.19,503.63 L831.87,503.57 L832.54,503.49 L833.21,503.41 L833.88,503.33 L834.55,503.24 L835.22,503.14 L835.90,503.04 L836.57,502.94 L837.24,502.82 L837.91,502.70 L838.58,502.58 L839.25,502.44 L839.92,502.30 L840.60,502.16 L841.27,502.01 L841.94,501.85 L842.61,501.69 L843.28,501.52 L843.95,501.34 L844.62,501.16 L845.30,500.98 L845.97,500.79 L846.64,500.59 L847.31,500.40 L847.98,500.19 L848.65,499.99 L849.33,499.79 L850.00,499.58 L850.67,499.37 L851.34,499.17 L852.01,498.96 L852.68,498.75 L853.35,498.55 L854.03,498.35 L854.70,498.16 L855.37,497.96 L856.04,497.78 L856.71,497.60 L857.38,497.43 L858.05,497.26 L858.73,497.11 L859.40,496.96 L860.07,496.83 L860.74,496.70 L861.41,496.59 L862.08,496.49 L862.76,496.40 L863.43,496.32 L864.10,496.26 L864.77,496.21 L865.44,496.17 L866.11,496.15 L866.78,496.14 L867.46,496.15 L868.13,496.17 L868.80,496.21 L869.47,496.26 L870.14,496.32 L870.81,496.40 L871.49,496.49 L872.16,496.59 L872.83,496.70 L873.50,496.83 L874.17,496.96 L874.84,497.11 L875.51,497.26 L876.19,497.43 L876.86,497.60 L877.53,497.78 L878.20,497.96 L878.87,498.16 L879.54,498.35 L880.21,498.55 L880.89,498.75 L881.56,498.96 L882.23,499.17 L882.90,499.37 L883.57,499.58 L884.24,499.79 L884.91,499.99 L885.59,500.19 L886.26,500.40 L886.93,500.59 L887.60,500.79 L888.27,500.98 L888.94,501.16 L889.62,501.34 L890.29,501.52 L890.96,501.69 L891.63,501.85 L892.30,502.01 L892.97,502.16 L893.64,502.30 L894.32,502.44 L894.99,502.58 L895.66,502.70 L896.33,502.82 L897.00,502.94 L897.67,503.04 L898.34,503.14 L899.02,503.24 L899.69,503.33 L900.36,503.41 L901.03,503.49 L901.70,503.57 L902.37,503.63 L903.05,503.70 L903.72,503.76 L904.39,503.81 L905.06,503.86 L905.73,503.91 L906.40,503.95 L907.07,503.99 L907.75,504.03 L908.42,504.06 L909.09,504.09 L909.76,504.12 L910.43,504.14 L911.10,504.16 L911.77,504.18 L912.45,504.20 L913.12,504.22 L913.79,504.23 L914.46,504.25 L915.13,504.26 L915.80,504.27 L916.48,504.28 L917.15,504.29 L917.82,504.30 L918.49,504.30 L919.16,504.31 L919.83,504.31 L920.50,504.32 L921.18,504.32 L921.85,504.33 L922.52,504.33 L923.19,504.33 L923.86,504.33 L924.53,504.34 L925.20,504.34 L925.88,504.34 L926.55,504.34 L927.22,504.34 L927.89,504.34 L928.56,504.34 L929.23,504.35 L929.91,504.35 L930.58,504.35 L931.25,504.35 L931.92,504.35 L932.59,504.35 L933.26,504.35 L933.93,504.35 L934.61,504.35 L935.28,504.35 L935.95,504.35 L936.62,504.35 L937.29,504.35 L937.96,504.35 L938.63,504.35 L939.31,504.35 L939.98,504.35 L940.65,504.35 L941.32,504.35 L941.99,504.35 L942.66,504.35 L943.34,504.35 L944.01,504.35 L944.68,504.35 L945.35,504.35 L946.02,504.35 L946.69,504.35 L947.36,504.35 L948.04,504.35 L948.71,504.35 L949.38,504.35" stroke="#FF0000"/>
<path d="M52.26,504.35 L52.93,504.35 L53.60,504.35 L54.27,504.35 L54.94,504.35 L55.61,504.35 L56.28,504.35 L56.96,504.35 L57.63,504.35 L58.30,504.35 L58.97,504.35 L59.64,504.35 L60.31,504.35 L60.98,504.35 L61.66,504.35 L62.33,504.35 L63.00,504.35 L63.67,504.35 L64.34,504.35 L65.01,504.35 L65.69,504.35 L66.36,504.35 L67.03,504.35 L67.70,504.35 L68.37,504.35 L69.04,504.35 L69.71,504.35 L70.39,504.35 L71.06,504.35 L71.73,504.35 L72.40,504.35 L73.07,504.35 L73.74,504.35 L74.41,504.35 L75.09,504.35 L75.76,504.35 L76.43,504.35 L77.10,504.35 L77.77,504.35 L78.44,504.35 L79.12,504.35 L79.79,504.35 L80.46,504.35 L81.13,504.35 L81.80,504.35 L82.47,504.35 L83.14,504.35 L83.82,504.35 L84.49,504.35 L85.16,504.35 L85.83,504.35 L86.50,504.35 L87.17,504.35 L87.84,504.35 L88.52,504.35 L89.19,504.35 L89.86,504.35 L90.53,504.35 L91.20,504.35 L91.87,504.35 L92.55,504.35 L93.22,504.35 L93.89,504.35 L94.56,504.35 L95.23,504.35 L95.90,504.35 L96.57,504.35 L97.25,504.35 L97.92,504.35 L98.59,504.35 L99.26,504.35 L99.93,504.35 L100.60,504.35 L101.27,504.35 L101.95,504.35 L102.62,504.35 L103.29,504.35 L103.96,504.35 L104.63,504.35 L105.30,504.35 L105.98,504.35 L106.65,504.35 L107.32,504.35 L107.99,504.35 L108.66,504.35 L109.33,504.35 L110.00,504.35 L110.68,504.35 L111.35,504.35 L112.02,504.35 L112.69,504.35 L113.36,504.35 L114.03,504.35 L114.70,504.35 L115.38,504.35 L116.05,504.35 L116.72,504.35 L117.39,504.35 L118.06,504.35 L118.73,504.35 L119.41,504.35 L120.08,504.35 L120.75,504.35 L121.42,504.35 L122.09,504.35 L122.76,504.35 L123.43,504.35 L124.11,504.35 L124.78,504.35 L125.45,504.35 L126.12,504.35 L126.79,504.35 L127.46,504.35 L128.13,504.35 L128.81,504.35 L129.48,504.35 L130.15,504.35 L130.82,504.35 L131.49,504.35 L132.16,504.35 L132.84,504.35 L133.51,504.35 L134.18,504.35 L134.85,504.35 L135.52,504.35 L136.19,504.35 L136.86,504.35 L137.54,504.35 L138.21,504.35 L138.88,504.35 L139.55,504.35 L140.22,504.35 L140.89,504.35 L141.56,504.35 L142.24,504.35 L142.91,504.35 L143.58,504.35 L144.25,504.35 L144.92,504.35 L145.59,504.35 L146.26,504.35 L146.94,504.35 L147.61,504.35 L148.28,504.35 L148.95,504.35 L149.62,504.35 L150.29,504.35 L150.97,504.35 L151.64,504.35 L152.31,504.35 L152.98,504.35 L153.65,504.35 L154.32,504.35 L154.99,504.35 L155.67,504.35 L156.34,504.35 L157.01,504.35 L157.68,504.35 L158.35,504.35 L159.02,504.35 L159.69,504.35 L160.37,504.35 L161.04,504.35 L161.71,504.35 L162.38,504.35 L163.05,504.35 L163.72,504.35 L164.40,504.35 L165.07,504.35 L165.74,504.35 L166.41,504.35 L167.08,504.35 L167.75,504.35 L168.42,504.35 L169.10,504.35 L169.77,504.35 L170.44,504.35 L171.11,504.35 L171.78,504.35 L172.45,504.35 L173.12,504.35 L173.80,504.35 L174.47,504.35 L175.14,504.35 L175.81,504.35 L176.48,504.35 L177.15,504.35 L177.83,504.35 L178.50,504.35 L179.17,504.35 L179.84,504.35 L180.51,504.35 L181.18,504.35 L181.85,504.35 L182.53,504.35 L183.20,504.35 L183.87,504.35 L184.54,504.35 L185.21,504.35 L185.88,504.35 L186.56,504.35 L187.23,504.35 L187.90,504.35 L188.57,504.35 L189.24,504.35 L189.91,504.35 L190.58,504.35 L191.26,504.35 L191.93,504.35 L192.60,504.35 L193.27,504.35 L193.94,504.35 L194.61,504.35 L195.28,504.35 L195.96,504.35 L196.63,504.35 L197.30,504.35 L197.97,504.35 L198.64,504.35 L199.31,504.35 L199.99,504.35 L200.66,504.35 L201.33,504.35 L202.00,504.35 L202.67,504.35 L203.34,504.35 L204.01,504.35 L204.69,504.35 L205.36,504.35 L206.03,504.35 L206.70,504.35 L207.37,504.35 L208.04,504.35 L208.71,504.35 L209.39,504.35 L210.06,504.35 L210.73,504.35 L211.40,504.35 L212.07,504.35 L212.74,504.35 L213.41,504.35 L214.09,504.35 L214.76,504.35 L215.43,504.35 L216.10,504.35 L216.77,504.35 L217.44,504.35 L218.12,504.35 L218.79,504.35 L219.46,504.35 L220.13,504.35 L220.80,504.35 L221.47,504.35 L222.14,504.35 L222.82,504.35 L223.49,504.35 L224.16,504.35 L224.83,504.35 L225.50,504.35 L226.17,504.35 L226.84,504.35 L227.52,504.35 L228.19,504.35 L228.86,504.35 L229.53,504.35 L230.20,504.35 L230.87,504.35 L231.55,504.35 L232.22,504.35 L232.89,504.35 L233.56,504.35 L234.23,504.35 L234.90,504.35 L235.57,504.35 L236.25,504.35 L236.92,504.35 L237.59,504.35 L238.26,504.35 L238.93,504.35 L239.60,504.35 L240.28,504.35 L240.95,504.35 L241.62,504.35 L242.29,504.35 L242.96,504.35 L243.63,504.35 L244.30,504.35 L244.98,504.35 L245.65,504.35 L246.32,504.35 L246.99,504.35 L247.66,504.35 L248.33,504.35 L249.00,504.35 L249.68,504.35 L250.35,504.35 L251.02,504.35 L251.69,504.35 L252.36,504.35 L253.03,504.35 L253.71,504.35 L254.38,504.35 L255.05,504.35 L255.72,504.35 L256.39,504.35 L257.06,504.35 L257.73,504.35 L258.41,504.35 L259.08,504.35 L259.75,504.35 L260.42,504.35 L261.09,504.35 L261.76,504.35 L262.43,504.35 L263.11,504.35 L263.78,504.35 L264.45,504.35 L265.12,504.35 L265.79,504.35 L266.46,504.35 L267.13,504.35 L267.81,504.35 L268.48,504.35 L269.15,504.35 L269.82,504.35 L270.49,504.35 L271.16,504.35 L271.84,504.35 L272.51,504.35 L273.18,504.35 L273.85,504.35 L274.52,504.35 L275.19,504.35 L275.86,504.35 L276.54,504.35 L277.21,504.35 L277.88,504.35 L278.55,504.35 L279.22,504.35 L279.89,504.35 L280.56,504.35 L281.24,504.35 L281.91,504.35 L282.58,504.35 L283.25,504.35 L283.92,504.35 L284.59,504.35 L285.27,504.35 L285.94,504.35 L286.61,504.35 L287.28,504.35 L287.95,504.35 L288.62,504.35 L289.29,504.35 L289.97,504.35 L290.64,504.35 L291.31,504.35 L291.98,504.35 L292.65,504.35 L293.32,504.35 L294.00,504.35 L294.67,504.35 L295.34,504.35 L296.01,504.35 L296.68,504.35 L297.35,504.35 L298.02,504.35 L298.70,504.35 L299.37,504.35 L300.04,504.35 L300.71,504.35 L301.38,504.35 L302.05,504.35 L302.72,504.35 L303.40,504.35 L304.07,504.35 L304.74,504.35 L305.41,504.35 L306.08,504.35 L306.75,504.35 L307.43,504.35 L308.10,504.35 L308.77,504.35 L309.44,504.35 L310.11,504.35 L310.78,504.35 L311.45,504.35 L312.13,504.35 L312.80,504.35 L313.47,504.35 L314.14,504.35 L314.81,504.35 L315.48,504.35 L316.15,504.35 L316.83,504.35 L317.50,504.35 L318.17,504.35 L318.84,504.35 L319.51,504.35 L320.18,504.35 L320.86,504.35 L321.53,504.35 L322.20,504.35 L322.87,504.35 L323.54,504.35 L324.21,504.35 L324.88,504.35 L325.56,504.35 L326.23,504.35 L326.90,504.35 L327.57,504.35 L328.24,504.35 L328.91,504.35 L329.58,504.35 L330.26,504.35 L330.93,504.35 L331.60,504.35 L332.27,504.35 L332.94,504.35 L333.61,504.35 L334.28,504.35 L334.96,504.35 L335.63,504.35 L336.30,504.35 L336.97,504.35 L337.64,504.35 L338.31,504.35 L338.99,504.35 L339.66,504.35 L340.33,504.35 L341.00,504.35 L341.67,504.35 L342.34,504.35 L343.01,504.35 L343.69,504.35 L344.36,504.35 L345.03,504.35 L345.70,504.35 L346.37,504.35 L347.04,504.35 L347.72,504.35 L348.39,504.35 L349.06,504.35 L349.73,504.35 L350.40,504.35 L351.07,504.35 L351.74,504.35 L352.42,504.35 L353.09,504.35 L353.76,504.35 L354.43,504.35 L355.10,504.35 L355.77,504.35 L356.44,504.35 L357.12,504.35 L357.79,504.35 L358.46,504.35 L359.13,504.35 L359.80,504.35 L360.47,504.35 L361.14,504.35 L361.82,504.35 L362.49,504.35 L363.16,504.35 L363.83,504.35 L364.50,504.35 L365.17,504.35 L365.85,504.35 L366.52,504.35 L367.19,504.35 L367.86,504.35 L368.53,504.35 L369.20,504.35 L369.87,504.35 L370.55,504.35 L371.22,504.35 L371.89,504.35 L372.56,504.35 L373.23,504.35 L373.90,504.35 L374.58,504.35 L375.25,504.35 L375.92,504.35 L376.59,504.35 L377.26,504.35 L377.93,504.35 L378.60,504.35 L379.28,504.35 L379.95,504.35 L380.62,504.35 L381.29,504.35 L381.96,504.35 L382.63,504.35 L383.30,504.35 L383.98,504.35 L384.65,504.35 L385.32,504.35 L385.99,504.35 L386.66,504.35 L387.33,504.35 L388.00,504.35 L388.68,504.35 L389.35,504.35 L390.02,504.35 L390.69,504.35 L391.36,504.35 L392.03,504.35 L392.71,504.35 L393.38,504.35 L394.05,504.35 L394.72,504.35 L395.39,504.35 L396.06,504.35 L396.73,504.35 L397.41,504.35 L398.08,504.35 L398.75,504.35 L399.42,504.35 L400.09,504.35 L400.76,504.35 L401.43,504.35 L402.11,504.35 L402.78,504.35 L403.45,504.35 L404.12,504.35 L404.79,504.35 L405.46,504.35 L406.14,504.35 L406.81,504.35 L407.48,504.35 L408.15,504.35 L408.82,504.35 L409.49,504.35 L410.16,504.35 L410.84,504.35 L411.51,504.35 L412.18,504.35 L412.85,504.35 L413.52,504.35 L414.19,504.35 L414.87,504.35 L415.54,504.35 L416.21,504.35 L416.88,504.35 L417.55,504.35 L418.22,504.35 L418.89,504.35 L419.57,504.35 L420.24,504.35 L420.91,504.35 L421.58,504.35 L422.25,504.35 L422.92,504.35 L423.59,504.35 L424.27,504.35 L424.94,504.35 L425.61,504.35 L426.28,504.35 L426.95,504.35 L427.62,504.35 L428.29,504.35 L428.97,504.35 L429.64,504.35 L430.31,504.35 L430.98,504.35 L431.65,504.35 L432.32,504.35 L433.00,504.35 L433.67,504.35 L434.34,504.35 L435.01,504.35 L435.68,504.35 L436.35,504.35 L437.02,504.35 L437.70,504.35 L438.37,504.35 L439.04,504.35 L439.71,504.35 L440.38,504.35 L441.05,504.35 L441.73,504.35 L442.40,504.35 L443.07,504.35 L443.74,504.35 L444.41,504.35 L445.08,504.35 L445.75,504.35 L446.43,504.35 L447.10,504.35 L447.77,504.35 L448.44,504.35 L449.11,504.35 L449.78,504.35 L450.45,504.35 L451.13,504.35 L451.80,504.35 L452.47,504.35 L453.14,504.35 L453.81,504.35 L454.48,504.35 L455.15,504.35 L455.83,504.35 L456.50,504.35 L457.17,504.35 L457.84,504.35 L458.51,504.35 L459.18,504.35 L459.86,504.35 L460.53,504.35 L461.20,504.35 L461.87,504.35 L462.54,504.35 L463.21,504.35 L463.88,504.35 L464.56,504.35 L465.23,504.35 L465.90,504.35 L466.57,504.35 L467.24,504.35 L467.91,504.35 L468.59,504.35 L469.26,504.35 L469.93,504.35 L470.60,504.35 L471.27,504.35 L471.94,504.35 L472.61,504.35 L473.29,504.35 L473.96,504.35 L474.63,504.35 L475.30,504.35 L475.97,504.35 L476.64,504.35 L477.31,504.35 L477.99,504.35 L478.66,504.35 L479.33,504.35 L480.00,504.35 L480.67,504.35 L481.34,504.35 L482.01,504.35 L482.69,504.35 L483.36,504.35 L484.03,504.35 L484.70,504.35 L485.37,504.35 L486.04,504.35 L486.72,504.35 L487.39,504.35 L488.06,504.35 L488.73,504.35 L489.40,504.35 L490.07,504.35 L490.74,504.35 L491.42,504.35 L492.09,504.35 L492.76,504.35 L493.43,504.35 L494.10,504.35 L494.77,504.35 L495.45,504.35 L496.12,504.35 L496.79,504.35 L497.46,504.35 L498.13,504.35 L498.80,504.35 L499.47,504.35 L500.15,504.35 L500.82,504.35 L501.49,504.35 L502.16,504.35 L502.83,504.35 L503.50,504.35 L504.17,504.35 L504.85,504.35 L505.52,504.35 L506.19,504.35 L506.86,504.35 L507.53,504.35 L508.20,504.35 L508.88,504.35 L509.55,504.35 L510.22,504.35 L510.89,504.35 L511.56,504.35 L512.23,504.35 L512.90,504.35 L513.58,504.35 L514.25,504.35 L514.92,504.35 L515.59,504.35 L516.26,504.35 L516.93,504.35 L517.60,504.35 L518.28,504.35 L518.95,504.35 L519.62,504.35 L520.29,504.35 L520.96,504.35 L521.63,504.35 L522.30,504.35 L522.98,504.35 L523.65,504.35 L524.32,504.35 L524.99,504.35 L525.66,504.35 L526.33,504.35 L527.01,504.35 L527.68,504.35 L528.35,504.35 L529.02,504.35 L529.69,504.35 L530.36,504.35 L531.03,504.35 L531.71,504.35 L532.38,504.35 L533.05,504.35 L533.72,504.35 L534.39,504.35 L535.06,504.35 L535.74,504.35 L536.41,504.35 L537.08,504.35 L537.75,504.35 L538.42,504.35 L539.09,504.35 L539.76,504.35 L540.44,504.35 L541.11,504.35 L541.78,504.35 L542.45,504.35 L543.12,504.35 L543.79,504.35 L544.46,504.35 L545.14,504.35 L545.81,504.35 L546.48,504.35 L547.15,504.35 L547.82,504.35 L548.49,504.35 L549.16,504.35 L549.84,504.35 L550.51,504.35 L551.18,504.35 L551.85,504.35 L552.52,504.35 L553.19,504.35 L553.87,504.35 L554.54,504.35 L555.21,504.35 L555.88,504.35 L556.55,504.35 L557.22,504.35 L557.89,504.35 L558.57,504.35 L559.24,504.35 L559.91,504.35 L560.58,504.35 L561.25,504.35 L561.92,504.35 L562.60,504.35 L563.27,504.35 L563.94,504.35 L564.61,504.35 L565.28,504.35 L565.95,504.35 L566.62,504.35 L567.30,504.35 L567.97,504.35 L568.64,504.35 L569.31,504.35 L569.98,504.35 L570.65,504.35 L571.32,504.35 L572.00,504.35 L572.67,504.35 L573.34,504.35 L574.01,504.35 L574.68,504.35 L575.35,504.35 L576.02,504.35 L576.70,504.35 L577.37,504.35 L578.04,504.35 L578.71,504.35 L579.38,504.35 L580.05,504.35 L580.73,504.35 L581.40,504.35 L582.07,504.35 L582.74,504.35 L583.41,504.35 L584.08,504.35 L584.75,504.35 L585.43,504.35 L586.10,504.35 L586.77,504.35 L587.44,504.35 L588.11,504.35 L588.78,504.35 L589.45,504.35 L590.13,504.35 L590.80,504.35 L591.47,504.35 L592.14,504.35 L592.81,504.35 L593.48,504.35 L594.16,504.35 L594.83,504.35 L595.50,504.35 L596.17,504.35 L596.84,504.35 L597.51,504.35 L598.18,504.35 L598.86,504.35 L599.53,504.35 L600.20,504.35 L600.87,504.35 L601.54,504.35 L602.21,504.35 L602.88,504.35 L603.56,504.35 L604.23,504.35 L604.90,504.35 L605.57,504.35 L606.24,504.35 L606.91,504.35 L607.59,504.35 L608.26,504.35 L608.93,504.35 L609.60,504.35 L610.27,504.35 L610.94,504.35 L611.61,504.35 L612.29,504.35 L612.96,504.35 L613.63,504.35 L614.30,504.35 L614.97,504.35 L615.64,504.35 L616.31,504.35 L616.99,504.35 L617.66,504.35 L618.33,504.35 L619.00,504.35 L619.67,504.35 L620.34,504.35 L621.02,504.35 L621.69,504.35 L622.36,504.35 L623.03,504.35 L623.70,504.35 L624.37,504.35 L625.04,504.35 L625.72,504.35 L626.39,504.35 L627.06,504.35 L627.73,504.35 L628.40,504.35 L629.07,504.35 L629.75,504.35 L630.42,504.35 L631.09,504.35 L631.76,504.35 L632.43,504.35 L633.10,504.35 L633.77,504.35 L634.45,504.35 L635.12,504.35 L635.79,504.35 L636.46,504.35 L637.13,504.35 L637.80,504.35 L638.47,504.35 L639.15,504.34 L639.82,504.34 L640.49,504.34 L641.16,504.34 L641.83,504.34 L642.50,504.34 L643.17,504.34 L643.85,504.33 L644.52,504.33 L645.19,504.33 L645.86,504.33 L646.53,504.32 L647.20,504.32 L647.88,504.31 L648.55,504.31 L649.22,504.30 L649.89,504.29 L650.56,504.29 L651.23,504.28 L651.90,504.27 L652.58,504.26 L653.25,504.24 L653.92,504.23 L654.59,504.21 L655.26,504.19 L655.93,504.17 L656.61,504.15 L657.28,504.13 L657.95,504.10 L658.62,504.07 L659.29,504.03 L659.96,504.00 L660.63,503.95 L661.31,503.91 L661.98,503.86 L662.65,503.81 L663.32,503.75 L663.99,503.68 L664.66,503.61 L665.33,503.54 L666.01,503.46 L666.68,503.37 L667.35,503.27 L668.02,503.17 L668.69,503.06 L669.36,502.95 L670.03,502.82 L670.71,502.69 L671.38,502.55 L672.05,502.40 L672.72,502.24 L673.39,502.07 L674.06,501.89 L674.74,501.71 L675.41,501.51 L676.08,501.31 L676.75,501.09 L677.42,500.87 L678.09,500.64 L678.76,500.40 L679.44,500.15 L680.11,499.89 L680.78,499.63 L681.45,499.36 L682.12,499.08 L682.79,498.80 L683.46,498.51 L684.14,498.22 L684.81,497.93 L685.48,497.63 L686.15,497.33 L686.82,497.03 L687.49,496.73 L688.17,496.43 L688.84,496.14 L689.51,495.84 L690.18,495.56 L690.85,495.28 L691.52,495.00 L692.19,494.74 L692.87,494.48 L693.54,494.24 L694.21,494.01 L694.88,493.79 L695.55,493.58 L696.22,493.39 L696.89,493.22 L697.57,493.06 L698.24,492.92 L698.91,492.80 L699.58,492.69 L700.25,492.61 L700.92,492.55 L701.60,492.50 L702.27,492.48 L702.94,492.48 L703.61,492.50 L704.28,492.54 L704.95,492.60 L705.62,492.68 L706.30,492.77 L706.97,492.89 L707.64,493.03 L708.31,493.18 L708.98,493.35 L709.65,493.54 L710.32,493.74 L711.00,493.96 L711.67,494.19 L712.34,494.43 L713.01,494.69 L713.68,494.95 L714.35,495.22 L715.03,495.50 L715.70,495.79 L716.37,496.08 L717.04,496.37 L717.71,496.67 L718.38,496.97 L719.05,497.27 L719.73,497.57 L720.40,497.87 L721.07,498.16 L721.74,498.45 L722.41,498.74 L723.08,499.03 L723.75,499.31 L724.43,499.58 L725.10,499.84 L725.77,500.10 L726.44,500.35 L727.11,500.59 L727.78,500.82 L728.46,501.05 L729.13,501.26 L729.80,501.47 L730.47,501.67 L731.14,501.86 L731.81,502.04 L732.48,502.21 L733.16,502.37 L733.83,502.52 L734.50,502.66 L735.17,502.80 L735.84,502.92 L736.51,503.04 L737.18,503.15 L737.86,503.25 L738.53,503.35 L739.20,503.44 L739.87,503.52 L740.54,503.60 L741.21,503.67 L741.89,503.74 L742.56,503.79 L743.23,503.85 L743.90,503.90 L744.57,503.95 L745.24,503.99 L745.91,504.03 L746.59,504.06 L747.26,504.09 L747.93,504.12 L748.60,504.15 L749.27,504.17 L749.94,504.19 L750.62,504.21 L751.29,504.22 L751.96,504.24 L752.63,504.25 L753.30,504.26 L753.97,504.28 L754.64,504.28 L755.32,504.29 L755.99,504.30 L756.66,504.31 L757.33,504.31 L758.00,504.32 L758.67,504.32 L759.34,504.33 L760.02,504.33 L760.69,504.33 L761.36,504.33 L762.03,504.34 L762.70,504.34 L763.37,504.34 L764.04,504.34 L764.72,504.34 L765.39,504.34 L766.06,504.34 L766.73,504.35 L767.40,504.35 L768.07,504.35 L768.75,504.35 L769.42,504.35 L770.09,504.35 L770.76,504.35 L771.43,504.35 L772.10,504.35 L772.77,504.35 L773.45,504.35 L774.12,504.35 L774.79,504.35 L775.46,504.35 L776.13,504.35 L776.80,504.35 L777.47,504.35 L778.15,504.35 L778.82,504.35 L779.49,504.35 L780.16,504.35 L780.83,504.35 L781.50,504.35 L782.18,504.35 L782.85,504.35 L783.52,504.35 L784.19,504.35 L784.86,504.35 L785.53,504.35 L786.20,504.35 L786.88,504.35 L787.55,504.35 L788.22,504.35 L788.89,504.35 L789.56,504.35 L790.23,504.35 L790.90,504.35 L791.58,504.35 L792.25,504.35 L792.92,504.35 L793.59,504.35 L794.26,504.35 L794.93,504.35 L795.61,504.35 L796.28,504.35 L796.95,504.35 L797.62,504.35 L798.29,504.35 L798.96,504.35 L799.63,504.35 L800.31,504.35 L800.98,504.35 L801.65,504.35 L802.32,504.35 L802.99,504.35 L803.66,504.35 L804.33,504.35 L805.01,504.35 L805.68,504.35 L806.35,504.35 L807.02,504.35 L807.69,504.34 L808.36,504.34 L809.04,504.34 L809.71,504.34 L810.38,504.34 L811.05,504.34 L811.72,504.34 L812.39,504.33 L813.06,504.33 L813.74,504.33 L814.41,504.33 L815.08,504.32 L815.75,504.32 L816.42,504.31 L817.09,504.31 L817.76,504.30 L818.44,504.30 L819.11,504.29 L819.78,504.28 L820.45,504.27 L821.12,504.26 L821.79,504.25 L822.47,504.24 L823.14,504.23 L823.81,504.22 L824.48,504.20 L825.15,504.18 L825.82,504.16 L826.49,504.14 L827.17,504.12 L827.84,504.10 L828.51,504.07 L829.18,504.04 L829.85,504.01 L830.52,503.97 L831.19,503.94 L831.87,503.90 L832.54,503.86 L833.21,503.81 L833.88,503.76 L834.55,503.71 L835.22,503.66 L835.90,503.60 L836.57,503.54 L837.24,503.47 L837.91,503.40 L838.58,503.33 L839.25,503.25 L839.92,503.17 L840.60,503.09 L841.27,503.00 L841.94,502.91 L842.61,502.82 L843.28,502.72 L843.95,502.62 L844.62,502.52 L845.30,502.41 L845.97,502.30 L846.64,502.19 L847.31,502.08 L847.98,501.96 L848.65,501.85 L849.33,501.73 L850.00,501.61 L850.67,501.49 L851.34,501.37 L852.01,501.25 L852.68,501.14 L853.35,501.02 L854.03,500.90 L854.70,500.79 L855.37,500.68 L856.04,500.58 L856.71,500.47 L857.38,500.37 L858.05,500.28 L858.73,500.19 L859.40,500.11 L860.07,500.03 L860.74,499.96 L861.41,499.89 L862.08,499.83 L862.76,499.78 L863.43,499.74 L864.10,499.70 L864.77,499.67 L865.44,499.65 L866.11,499.64 L866.78,499.64 L867.46,499.64 L868.13,499.65 L868.80,499.67 L869.47,499.70 L870.14,499.74 L870.81,499.78 L871.49,499.83 L872.16,499.89 L872.83,499.96 L873.50,500.03 L874.17,500.11 L874.84,500.19 L875.51,500.28 L876.19,500.37 L876.86,500.47 L877.53,500.58 L878.20,500.68 L878.87,500.79 L879.54,500.90 L880.21,501.02 L880.89,501.14 L881.56,501.25 L882.23,501.37 L882.90,501.49 L883.57,501.61 L884.24,501.73 L884.91,501.85 L885.59,501.96 L886.26,502.08 L886.93,502.19 L887.60,502.30 L888.27,502.41 L888.94,502.52 L889.62,502.62 L890.29,502.72 L890.96,502.82 L891.63,502.91 L892.30,503.00 L892.97,503.09 L893.64,503.17 L894.32,503.25 L894.99,503.33 L895.66,503.40 L896.33,503.47 L897.00,503.54 L897.67,503.60 L898.34,503.66 L899.02,503.71 L899.69,503.76 L900.36,503.81 L901.03,503.86 L901.70,503.90 L902.37,503.94 L903.05,503.97 L903.72,504.01 L904.39,504.04 L905.06,504.07 L905.73,504.10 L906.40,504.12 L907.07,504.14 L907.75,504.16 L908.42,504.18 L909.09,504.20 L909.76,504.22 L910.43,504.23 L911.10,504.24 L911.77,504.25 L912.45,504.26 L913.12,504.27 L913.79,504.28 L914.46,504.29 L915.13,504.30 L915.80,504.30 L916.48,504.31 L917.15,504.31 L917.82,504.32 L918.49,504.32 L919.16,504.33 L919.83,504.33 L920.50,504.33 L921.18,504.33 L921.85,504.34 L922.52,504.34 L923.19,504.34 L923.86,504.34 L924.53,504.34 L925.20,504.34 L925.88,504.34 L926.55,504.35 L927.22,504.35 L927.89,504.35 L928.56,504.35 L929.23,504.35 L929.91,504.35 L930.58,504.35 L931.25,504.35 L931.92,504.35 L932.59,504.35 L933.26,504.35 L933.93,504.35 L934.61,504.35 L935.28,504.35 L935.95,504.35 L936.62,504.35 L937.29,504.35 L937.96,504.35 L938.63,504.35 L939.31,504.35 L939.98,504.35 L940.65,504.35 L941.32,504.35 L941.99,504.35 L942.66,504.35 L943.34,504.35 L944.01,504.35 L944.68,504.35 L945.35,504.35 L946.02,504.35 L946.69,504.35 L947.36,504.35 L948.04,504.35 L948.71,504.35 L949.38,504.35" stroke="#B8860B"/>
<path d="M52.26,504.70 L52.93,504.70 L53.60,504.70 L54.27,504.70 L54.94,504.70 L55.61,504.70 L56.28,504.70 L56.96,504.70 L57.63,504.70 L58.30,504.70 L58.97,504.70 L59.64,504.70 L60.31,504.70 L60.98,504.70 L61.66,504.70 L62.33,504.70 L63.00,504.70 L63.67,504.70 L64.34,504.70 L65.01,504.70 L65.69,504.70 L66.36,504.70 L67.03,504.70 L67.70,504.70 L68.37,504.70 L69.04,504.70 L69.71,504.70 L70.39,504.70 L71.06,504.70 L71.73,504.70 L72.40,504.70 L73.07,504.70 L73.74,504.70 L74.41,504.70 L75.09,504.70 L75.76,504.70 L76.43,504.70 L77.10,504.70 L77.77,504.70 L78.44,504.70 L79.12,504.70 L79.79,504.70 L80.46,504.70 L81.13,504.70 L81.80,504.70 L82.47,504.70 L83.14,504.70 L83.82,504.70 L84.49,504.70 L85.16,504.70 L85.83,504.70 L86.50,504.70 L87.17,504.70 L87.84,504.70 L88.52,504.70 L89.19,504.70 L89.86,504.70 L90.53,504.70 L91.20,504.70 L91.87,504.70 L92.55,504.70 L93.22,504.70 L93.89,504.70 L94.56,504.70 L95.23,504.70 L95.90,504.70 L96.57,504.70 L97.25,504.70 L97.92,504.70 L98.59,504.70 L99.26,504.70 L99.93,504.70 L100.60,504.70 L101.27,504.70 L101.95,504.70 L102.62,504.70 L103.29,504.70 L103.96,504.70 L104.63,504.70 L105.30,504.70 L105.98,504.70 L106.65,504.70 L107.32,504.70 L107.99,504.70 L108.66,504.70 L109.33,504.70 L110.00,504.70 L110.68,504.70 L111.35,504.70 L112.02,504.70 L112.69,504.70 L113.36,504.70 L114.03,504.70 L114.70,504.70 L115.38,504.70 L116.05,504.70 L116.72,504.70 L117.39,504.70 L118.06,504.70 L118.73,504.70 L119.41,504.70 L120.08,504.70 L120.75,504.70 L121.42,504.70 L122.09,504.70 L122.76,504.70 L123.43,504.70 L124.11,504.70 L124.78,504.70 L125.45,504.70 L126.12,504.70 L126.79,504.70 L127.46,504.70 L128.13,504.70 L128.81,504.70 L129.48,504.70 L130.15,504.70 L130.82,504.70 L131.49,504.70 L132.16,504.70 L132.84,504.70 L133.51,504.70 L134.18,504.70 L134.85,504.70 L135.52,504.70 L136.19,504.70 L136.86,504.70 L137.54,504.70 L138.21,504.70 L138.88,504.70 L139.55,504.70 L140.22,504.70 L140.89,504.70 L141.56,504.70 L142.24,504.70 L142.91,504.70 L143.58,504.70 L144.25,504.70 L144.92,504.70 L145.59,504.70 L146.26,504.70 L146.94,504.70 L147.61,504.70 L148.28,504.70 L148.95,504.70 L149.62,504.70 L150.29,504.70 L150.97,504.70 L151.64,504.70 L152.31,504.70 L152.98,504.70 L153.65,504.70 L154.32,504.70 L154.99,504.70 L155.67,504.70 L156.34,504.70 L157.01,504.70 L157.68,504.70 L158.35,504.70 L159.02,504.70 L159.69,504.70 L160.37,504.70 L161.04,504.70 L161.71,504.70 L162.38,504.70 L163.05,504.70 L163.72,504.70 L164.40,504.70 L165.07,504.70 L165.74,504.70 L166.41,504.70 L167.08,504.70 L167.75,504.70 L168.42,504.70 L169.10,504.70 L169.77,504.70 L170.44,504.70 L171.11,504.70 L171.78,504.70 L172.45,504.70 L173.12,504.70 L173.80,504.70 L174.47,504.70 L175.14,504.70 L175.81,504.70 L176.48,504.70 L177.15,504.70 L177.83,504.70 L178.50,504.70 L179.17,504.70 L179.84,504.70 L180.51,504.70 L181.18,504.70 L181.85,504.70 L182.53,504.70 L183.20,504.70 L183.87,504.70 L184.54,504.70 L185.21,504.70 L185.88,504.70 L186.56,504.70 L187.23,504.70 L187.90,504.70 L188.57,504.70 L189.24,504.70 L189.91,504.70 L190.58,504.70 L191.26,504.70 L191.93,504.70 L192.60,504.70 L193.27,504.70 L193.94,504.70 L194.61,504.70 L195.28,504.70 L195.96,504.70 L196.63,504.70 L197.30,504.70 L197.97,504.70 L198.64,504.70 L199.31,504.70 L199.99,504.70 L200.66,504.70 L201.33,504.70 L202.00,504.70 L202.67,504.70 L203.34,504.70 L204.01,504.70 L204.69,504.70 L205.36,504.70 L206.03,504.70 L206.70,504.70 L207.37,504.70 L208.04,504.70 L208.71,504.70 L209.39,504.70 L210.06,504.70 L210.73,504.70 L211.40,504.70 L212.07,504.70 L212.74,504.70 L213.41,504.70 L214.09,504.70 L214.76,504.70 L215.43,504.70 L216.10,504.70 L216.77,504.70 L217.44,504.70 L218.12,504.70 L218.79,504.70 L219.46,504.70 L220.13,504.70 L220.80,504.70 L221.47,504.70 L222.14,504.70 L222.82,504.70 L223.49,504.70 L224.16,504.70 L224.83,504.70 L225.50,504.70 L226.17,504.70 L226.84,504.70 L227.52,504.70 L228.19,504.70 L228.86,504.70 L229.53,504.70 L230.20,504.70 L230.87,504.70 L231.55,504.70 L232.22,504.70 L232.89,504.70 L233.56,504.70 L234.23,504.70 L234.90,504.70 L235.57,504.70 L236.25,504.70 L236.92,504.70 L237.59,504.70 L238.26,504.70 L238.93,504.70 L239.60,504.70 L240.28,504.70 L240.95,504.70 L241.62,504.70 L242.29,504.70 L242.96,504.70 L243.63,504.70 L244.30,504.70 L244.98,504.70 L245.65,504.70 L246.32,504.70 L246.99,504.70 L247.66,504.70 L248.33,504.70 L249.00,504.70 L249.68,504.70 L250.35,504.70 L251.02,504.70 L251.69,504.70 L252.36,504.70 L253.03,504.70 L253.71,504.70 L254.38,504.70 L255.05,504.70 L255.72,504.70 L256.39,504.70 L257.06,504.70 L257.73,504.70 L258.41,504.70 L259.08,504.70 L259.75,504.70 L260.42,504.70 L261.09,504.70 L261.76,504.70 L262.43,504.70 L263.11,504.70 L263.78,504.70 L264.45,504.70 L265.12,504.70 L265.79,504.70 L266.46,504.70 L267.13,504.70 L267.81,504.70 L268.48,504.70 L269.15,504.70 L269.82,504.70 L270.49,504.70 L271.16,504.70 L271.84,504.70 L272.51,504.70 L273.18,504.70 L273.85,504.70 L274.52,504.70 L275.19,504.70 L275.86,504.70 L276.54,504.70 L277.21,504.70 L277.88,504.70 L278.55,504.70 L279.22,504.70 L279.89,504.70 L280.56,504.70 L281.24,504.70 L281.91,504.70 L282.58,504.70 L283.25,504.70 L283.92,504.70 L284.59,504.70 L285.27,504.70 L285.94,504.70 L286.61,504.69 L287.28,504.69 L287.95,504.69 L288.62,504.69 L289.29,504.69 L289.97,504.69 L290.64,504.68 L291.31,504.68 L291.98,504.68 L292.65,504.67 L293.32,504.67 L294.00,504.66 L294.67,504.65 L295.34,504.64 L296.01,504.63 L296.68,504.62 L297.35,504.61 L298.02,504.59 L298.70,504.57 L299.37,504.55 L300.04,504.52 L300.71,504.49 L301.38,504.46 L302.05,504.42 L302.72,504.37 L303.40,504.32 L304.07,504.26 L304.74,504.19 L305.41,504.11 L306.08,504.03 L306.75,503.92 L307.43,503.81 L308.10,503.68 L308.77,503.53 L309.44,503.36 L310.11,503.18 L310.78,502.97 L311.45,502.73 L312.13,502.46 L312.80,502.16 L313.47,501.83 L314.14,501.45 L314.81,501.04 L315.48,500.58 L316.15,500.06 L316.83,499.49 L317.50,498.87 L318.17,498.17 L318.84,497.41 L319.51,496.56 L320.18,495.64 L320.86,494.63 L321.53,493.52 L322.20,492.31 L322.87,490.99 L323.54,489.56 L324.21,488.00 L324.88,486.31 L325.56,484.49 L326.23,482.51 L326.90,480.39 L327.57,478.10 L328.24,475.65 L328.91,473.02 L329.58,470.21 L330.26,467.21 L330.93,464.02 L331.60,460.63 L332.27,457.02 L332.94,453.21 L333.61,449.18 L334.28,444.94 L334.96,440.47 L335.63,435.78 L336.30,430.86 L336.97,425.73 L337.64,420.37 L338.31,414.79 L338.99,409.00 L339.66,403.00 L340.33,396.80 L341.00,390.41 L341.67,383.83 L342.34,377.07 L343.01,370.16 L343.69,363.11 L344.36,355.92 L345.03,348.62 L345.70,341.22 L346.37,333.75 L347.04,326.23 L347.72,318.68 L348.39,311.12 L349.06,303.57 L349.73,296.07 L350.40,288.64 L351.07,281.31 L351.74,274.10 L352.42,267.04 L353.09,260.15 L353.76,253.48 L354.43,247.03 L355.10,240.85 L355.77,234.96 L356.44,229.37 L357.12,224.13 L357.79,219.24 L358.46,214.74 L359.13,210.65 L359.80,206.97 L360.47,203.74 L361.14,200.96 L361.82,198.65 L362.49,196.81 L363.16,195.47 L363.83,194.62 L364.50,194.27 L365.17,194.42 L365.85,195.07 L366.52,196.22 L367.19,197.86 L367.86,199.98 L368.53,202.57 L369.20,205.62 L369.87,209.12 L370.55,213.06 L371.22,217.40 L371.89,222.13 L372.56,227.23 L373.23,232.68 L373.90,238.46 L374.58,244.53 L375.25,250.87 L375.92,257.46 L376.59,264.26 L377.26,271.25 L377.93,278.41 L378.60,285.70 L379.28,293.09 L379.95,300.57 L380.62,308.10 L381.29,315.65 L381.96,323.21 L382.63,330.75 L383.30,338.24 L383.98,345.67 L384.65,353.01 L385.32,360.25 L385.99,367.36 L386.66,374.33 L387.33,381.15 L388.00,387.80 L388.68,394.27 L389.35,400.55 L390.02,406.63 L390.69,412.50 L391.36,418.16 L392.03,423.61 L392.71,428.84 L393.38,433.84 L394.05,438.62 L394.72,443.18 L395.39,447.51 L396.06,451.63 L396.73,455.52 L397.41,459.21 L398.08,462.69 L398.75,465.96 L399.42,469.04 L400.09,471.92 L400.76,474.62 L401.43,477.14 L402.11,479.50 L402.78,481.68 L403.45,483.72 L404.12,485.60 L404.79,487.34 L405.46,488.95 L406.14,490.43 L406.81,491.80 L407.48,493.05 L408.15,494.20 L408.82,495.25 L409.49,496.21 L410.16,497.08 L410.84,497.87 L411.51,498.60 L412.18,499.25 L412.85,499.84 L413.52,500.38 L414.19,500.86 L414.87,501.29 L415.54,501.68 L416.21,502.03 L416.88,502.34 L417.55,502.62 L418.22,502.87 L418.89,503.10 L419.57,503.29 L420.24,503.47 L420.91,503.62 L421.58,503.76 L422.25,503.88 L422.92,503.99 L423.59,504.08 L424.27,504.16 L424.94,504.23 L425.61,504.30 L426.28,504.35 L426.95,504.40 L427.62,504.44 L428.29,504.48 L428.97,504.51 L429.64,504.54 L430.31,504.56 L430.98,504.58 L431.65,504.60 L432.32,504.61 L433.00,504.63 L433.67,504.64 L434.34,504.65 L435.01,504.66 L435.68,504.66 L436.35,504.67 L437.02,504.67 L437.70,504.68 L438.37,504.68 L439.04,504.68 L439.71,504.69 L440.38,504.69 L441.05,504.69 L441.73,504.69 L442.40,504.69 L443.07,504.69 L443.74,504.70 L444.41,504.70 L445.08,504.70 L445.75,504.70 L446.43,504.70 L447.10,504.70 L447.77,504.70 L448.44,504.70 L449.11,504.70 L449.78,504.70 L450.45,504.70 L451.13,504.70 L451.80,504.70 L452.47,504.70 L453.14,504.70 L453.81,504.70 L454.48,504.70 L455.15,504.70 L455.83,504.70 L456.50,504.70 L457.17,504.70 L457.84,504.70 L458.51,504.70 L459.18,504.70 L459.86,504.70 L460.53,504.70 L461.20,504.70 L461.87,504.70 L462.54,504.70 L463.21,504.70 L463.88,504.70 L464.56,504.70 L465.23,504.70 L465.90,504.70 L466.57,504.70 L467.24,504.70 L467.91,504.70 L468.59,504.70 L469.26,504.70 L469.93,504.70 L470.60,504.70 L471.27,504.70 L471.94,504.70 L472.61,504.70 L473.29,504.70 L473.96,504.70 L474.63,504.70 L475.30,504.70 L475.97,504.70 L476.64,504.70 L477.31,504.70 L477.99,504.70 L478.66,504.70 L479.33,504.70 L480.00,504.70 L480.67,504.70 L481.34,504.70 L482.01,504.70 L482.69,504.70 L483.36,504.70 L484.03,504.70 L484.70,504.70 L485.37,504.70 L486.04,504.70 L486.72,504.70 L487.39,504.70 L488.06,504.70 L488.73,504.70 L489.40,504.70 L490.07,504.70 L490.74,504.70 L491.42,504.70 L492.09,504.70 L492.76,504.70 L493.43,504.70 L494.10,504.70 L494.77,504.70 L495.45,504.70 L496.12,504.70 L496.79,504.70 L497.46,504.70 L498.13,504.70 L498.80,504.70 L499.47,504.70 L500.15,504.70 L500.82,504.70 L501.49,504.70 L502.16,504.70 L502.83,504.70 L503.50,504.70 L504.17,504.70 L504.85,504.70 L505.52,504.70 L506.19,504.70 L506.86,504.70 L507.53,504.70 L508.20,504.70 L508.88,504.70 L509.55,504.70 L510.22,504.70 L510.89,504.70 L511.56,504.70 L512.23,504.70 L512.90,504.70 L513.58,504.70 L514.25,504.70 L514.92,504.70 L515.59,504.70 L516.26,504.70 L516.93,504.70 L517.60,504.70 L518.28,504.70 L518.95,504.70 L519.62,504.70 L520.29,504.70 L520.96,504.70 L521.63,504.70 L522.30,504.70 L522.98,504.70 L523.65,504.70 L524.32,504.70 L524.99,504.70 L525.66,504.70 L526.33,504.70 L527.01,504.70 L527.68,504.70 L528.35,504.70 L529.02,504.70 L529.69,504.70 L530.36,504.70 L531.03,504.70 L531.71,504.70 L532.38,504.70 L533.05,504.70 L533.72,504.70 L534.39,504.70 L535.06,504.70 L535.74,504.70 L536.41,504.70 L537.08,504.70 L537.75,504.70 L538.42,504.70 L539.09,504.70 L539.76,504.70 L540.44,504.70 L541.11,504.70 L541.78,504.70 L542.45,504.70 L543.12,504.70 L543.79,504.70 L544.46,504.70 L545.14,504.70 L545.81,504.70 L546.48,504.70 L547.15,504.70 L547.82,504.70 L548.49,504.70 L549.16,504.70 L549.84,504.70 L550.51,504.70 L551.18,504.70 L551.85,504.70 L552.52,504.70 L553.19,504.70 L553.87,504.70 L554.54,504.70 L555.21,504.70 L555.88,504.70 L556.55,504.70 L557.22,504.70 L557.89,504.70 L558.57,504.70 L559.24,504.70 L559.91,504.70 L560.58,504.70 L561.25,504.70 L561.92,504.70 L562.60,504.70 L563.27,504.70 L563.94,504.70 L564.61,504.70 L565.28,504.70 L565.95,504.70 L566.62,504.70 L567.30,504.70 L567.97,504.70 L568.64,504.70 L569.31,504.70 L569.98,504.70 L570.65,504.70 L571.32,504.70 L572.00,504.70 L572.67,504.69 L573.34,504.69 L574.01,504.69 L574.68,504.69 L575.35,504.69 L576.02,504.69 L576.70,504.68 L577.37,504.68 L578.04,504.68 L578.71,504.68 L579.38,504.67 L580.05,504.67 L580.73,504.66 L581.40,504.66 L582.07,504.65 L582.74,504.64 L583.41,504.63 L584.08,504.62 L584.75,504.61 L585.43,504.60 L586.10,504.58 L586.77,504.57 L587.44,504.55 L588.11,504.53 L588.78,504.50 L589.45,504.48 L590.13,504.45 L590.80,504.42 L591.47,504.38 L592.14,504.34 L592.81,504.29 L593.48,504.24 L594.16,504.19 L594.83,504.13 L595.50,504.06 L596.17,503.98 L596.84,503.90 L597.51,503.81 L598.18,503.71 L598.86,503.61 L599.53,503.49 L600.20,503.36 L600.87,503.22 L601.54,503.07 L602.21,502.91 L602.88,502.74 L603.56,502.55 L604.23,502.35 L604.90,502.13 L605.57,501.90 L606.24,501.65 L606.91,501.38 L607.59,501.10 L608.26,500.80 L608.93,500.48 L609.60,500.14 L610.27,499.79 L610.94,499.41 L611.61,499.02 L612.29,498.60 L612.96,498.17 L613.63,497.72 L614.30,497.25 L614.97,496.76 L615.64,496.25 L616.31,495.72 L616.99,495.18 L617.66,494.62 L618.33,494.05 L619.00,493.46 L619.67,492.86 L620.34,492.25 L621.02,491.63 L621.69,491.00 L622.36,490.36 L623.03,489.72 L623.70,489.07 L624.37,488.43 L625.04,487.78 L625.72,487.14 L626.39,486.51 L627.06,485.88 L627.73,485.27 L628.40,484.66 L629.07,484.08 L629.75,483.51 L630.42,482.96 L631.09,482.43 L631.76,481.93 L632.43,481.45 L633.10,481.01 L633.77,480.60 L634.45,480.22 L635.12,479.87 L635.79,479.56 L636.46,479.30 L637.13,479.07 L637.80,478.88 L638.47,478.73 L639.15,478.63 L639.82,478.57 L640.49,478.56 L641.16,478.59 L641.83,478.68 L642.50,478.81 L643.17,479.00 L643.85,479.24 L644.52,479.52 L645.19,479.86 L645.86,480.24 L646.53,480.66 L647.20,481.13 L647.88,481.63 L648.55,482.18 L649.22,482.76 L649.89,483.37 L650.56,484.02 L651.23,484.69 L651.90,485.39 L652.58,486.11 L653.25,486.85 L653.92,487.60 L654.59,488.37 L655.26,489.16 L655.93,489.95 L656.61,490.75 L657.28,491.55 L657.95,492.36 L658.62,493.16 L659.29,493.96 L659.96,494.76 L660.63,495.54 L661.31,496.31 L661.98,497.06 L662.65,497.77 L663.32,498.43 L663.99,499.02 L664.66,499.50 L665.33,499.84 L666.01,499.98 L666.68,499.90 L667.35,499.58 L668.02,499.05 L668.69,498.33 L669.36,497.46 L670.03,496.48 L670.71,495.38 L671.38,494.19 L672.05,492.92 L672.72,491.57 L673.39,490.14 L674.06,488.63 L674.74,487.05 L675.41,485.40 L676.08,483.68 L676.75,481.88 L677.42,480.01 L678.09,478.07 L678.76,476.06 L679.44,473.98 L680.11,471.83 L680.78,469.62 L681.45,467.34 L682.12,465.01 L682.79,462.61 L683.46,460.17 L684.14,457.67 L684.81,455.14 L685.48,452.56 L686.15,449.95 L686.82,447.31 L687.49,444.66 L688.17,442.00 L688.84,439.33 L689.51,436.66 L690.18,434.01 L690.85,431.39 L691.52,428.79 L692.19,426.23 L692.87,423.73 L693.54,421.29 L694.21,418.91 L694.88,416.62 L695.55,414.42 L696.22,412.31 L696.89,410.31 L697.57,408.44 L698.24,406.68 L698.91,405.06 L699.58,403.58 L700.25,402.25 L700.92,401.07 L701.60,400.06 L702.27,399.20 L702.94,398.52 L703.61,398.01 L704.28,397.67 L704.95,397.51 L705.62,397.53 L706.30,397.72 L706.97,398.09 L707.64,398.64 L708.31,399.35 L708.98,400.24 L709.65,401.29 L710.32,402.49 L711.00,403.85 L711.67,405.36 L712.34,407.00 L713.01,408.78 L713.68,410.67 L714.35,412.69 L715.03,414.81 L715.70,417.02 L716.37,419.32 L717.04,421.70 L717.71,424.15 L718.38,426.65 L719.05,429.20 L719.73,431.79 L720.40,434.40 L721.07,437.04 L721.74,439.68 L722.41,442.32 L723.08,444.95 L723.75,447.57 L724.43,450.16 L725.10,452.72 L725.77,455.24 L726.44,457.72 L727.11,460.15 L727.78,462.52 L728.46,464.83 L729.13,467.08 L729.80,469.26 L730.47,471.36 L731.14,473.40 L731.81,475.36 L732.48,477.24 L733.16,479.04 L733.83,480.77 L734.50,482.41 L735.17,483.98 L735.84,485.47 L736.51,486.88 L737.18,488.21 L737.86,489.47 L738.53,490.66 L739.20,491.77 L739.87,492.82 L740.54,493.80 L741.21,494.72 L741.89,495.57 L742.56,496.36 L743.23,497.10 L743.90,497.79 L744.57,498.42 L745.24,499.00 L745.91,499.54 L746.59,500.04 L747.26,500.49 L747.93,500.91 L748.60,501.29 L749.27,501.64 L749.94,501.95 L750.62,502.24 L751.29,502.50 L751.96,502.74 L752.63,502.95 L753.30,503.14 L753.97,503.32 L754.64,503.47 L755.32,503.61 L755.99,503.74 L756.66,503.85 L757.33,503.95 L758.00,504.04 L758.67,504.11 L759.34,504.18 L760.02,504.24 L760.69,504.29 L761.36,504.34 L762.03,504.38 L762.70,504.41 L763.37,504.43 L764.04,504.46 L764.72,504.47 L765.39,504.48 L766.06,504.49 L766.73,504.50 L767.40,504.49 L768.07,504.49 L768.75,504.48 L769.42,504.47 L770.09,504.45 L770.76,504.42 L771.43,504.40 L772.10,504.36 L772.77,504.32 L773.45,504.28 L774.12,504.22 L774.79,504.16 L775.46,504.09 L776.13,504.01 L776.80,503.93 L777.47,503.83 L778.15,503.71 L778.82,503.59 L779.49,503.45 L780.16,503.30 L780.83,503.12 L781.50,502.93 L782.18,502.72 L782.85,502.49 L783.52,502.23 L784.19,501.95 L784.86,501.64 L785.53,501.30 L786.20,500.93 L786.88,500.53 L787.55,500.08 L788.22,499.60 L788.89,499.08 L789.56,498.51 L790.23,497.89 L790.90,497.23 L791.58,496.51 L792.25,495.74 L792.92,494.91 L793.59,494.02 L794.26,493.06 L794.93,492.04 L795.61,490.95 L796.28,489.79 L796.95,488.56 L797.62,487.25 L798.29,485.86 L798.96,484.39 L799.63,482.85 L800.31,481.22 L800.98,479.51 L801.65,477.71 L802.32,475.84 L802.99,473.87 L803.66,471.83 L804.33,469.70 L805.01,467.49 L805.68,465.20 L806.35,462.84 L807.02,460.40 L807.69,457.89 L808.36,455.32 L809.04,452.68 L809.71,449.99 L810.38,447.24 L811.05,444.45 L811.72,441.61 L812.39,438.75 L813.06,435.86 L813.74,432.95 L814.41,430.04 L815.08,427.12 L815.75,424.22 L816.42,421.33 L817.09,418.47 L817.76,415.65 L818.44,412.88 L819.11,410.16 L819.78,407.51 L820.45,404.94 L821.12,402.46 L821.79,400.08 L822.47,397.80 L823.14,395.64 L823.81,393.60 L824.48,391.70 L825.15,389.95 L825.82,388.34 L826.49,386.89 L827.17,385.60 L827.84,384.48 L828.51,383.53 L829.18,382.77 L829.85,382.18 L830.52,381.77 L831.19,381.55 L831.87,381.52 L832.54,381.66 L833.21,381.97 L833.88,382.46 L834.55,383.11 L835.22,383.93 L835.90,384.91 L836.57,386.04 L837.24,387.33 L837.91,388.76 L838.58,390.33 L839.25,392.03 L839.92,393.85 L840.60,395.78 L841.27,397.82 L841.94,399.96 L842.61,402.18 L843.28,404.48 L843.95,406.85 L844.62,409.27 L845.30,411.74 L845.97,414.25 L846.64,416.78 L847.31,419.33 L847.98,421.89 L848.65,424.44 L849.33,426.98 L850.00,429.51 L850.67,432.00 L851.34,434.46 L852.01,436.87 L852.68,439.23 L853.35,441.54 L854.03,443.78 L854.70,445.96 L855.37,448.06 L856.04,450.09 L856.71,452.04 L857.38,453.91 L858.05,455.70 L858.73,457.41 L859.40,459.03 L860.07,460.58 L860.74,462.04 L861.41,463.42 L862.08,464.73 L862.76,465.96 L863.43,467.13 L864.10,468.22 L864.77,469.25 L865.44,470.23 L866.11,471.15 L866.78,472.02 L867.46,472.84 L868.13,473.63 L868.80,474.37 L869.47,475.09 L870.14,475.79 L870.81,476.46 L871.49,477.11 L872.16,477.76 L872.83,478.39 L873.50,479.02 L874.17,479.64 L874.84,480.26 L875.51,480.89 L876.19,481.52 L876.86,482.15 L877.53,482.80 L878.20,483.44 L878.87,484.10 L879.54,484.76 L880.21,485.43 L880.89,486.11 L881.56,486.79 L882.23,487.47 L882.90,488.16 L883.57,488.84 L884.24,489.53 L884.91,490.21 L885.59,490.89 L886.26,491.56 L886.93,492.22 L887.60,492.87 L888.27,493.51 L888.94,494.13 L889.62,494.74 L890.29,495.33 L890.96,495.90 L891.63,496.45 L892.30,496.98 L892.97,497.49 L893.64,497.98 L894.32,498.44 L894.99,498.88 L895.66,499.30 L896.33,499.70 L897.00,500.07 L897.67,500.42 L898.34,500.75 L899.02,501.06 L899.69,501.34 L900.36,501.61 L901.03,501.86 L901.70,502.09 L902.37,502.31 L903.05,502.50 L903.72,502.69 L904.39,502.86 L905.06,503.01 L905.73,503.16 L906.40,503.29 L907.07,503.41 L907.75,503.52 L908.42,503.63 L909.09,503.72 L909.76,503.81 L910.43,503.89 L911.10,503.96 L911.77,504.03 L912.45,504.09 L913.12,504.15 L913.79,504.20 L914.46,504.25 L915.13,504.29 L915.80,504.33 L916.48,504.37 L917.15,504.41 L917.82,504.44 L918.49,504.46 L919.16,504.49 L919.83,504.51 L920.50,504.53 L921.18,504.55 L921.85,504.57 L922.52,504.58 L923.19,504.59 L923.86,504.61 L924.53,504.62 L925.20,504.62 L925.88,504.63 L926.55,504.64 L927.22,504.64 L927.89,504.65 L928.56,504.65 L929.23,504.65 L929.91,504.65 L930.58,504.65 L931.25,504.65 L931.92,504.65 L932.59,504.65 L933.26,504.65 L933.93,504.65 L934.61,504.64 L935.28,504.64 L935.95,504.63 L936.62,504.63 L937.29,504.62 L937.96,504.61 L938.63,504.60 L939.31,504.59 L939.98,504.58 L940.65,504.57 L941.32,504.56 L941.99,504.54 L942.66,504.53 L943.34,504.51 L944.01,504.49 L944.68,504.47 L945.35,504.45 L946.02,504.43 L946.69,504.40 L947.36,504.38 L948.04,504.35 L948.71,504.32 L949.38,504.28" stroke="#7E2F8E"/>
</g>
<g font-size="24.00">
<text x="81.80" y="541.30" text-anchor="middle">1000</text>
<text x="216.10" y="541.30" text-anchor="middle">1100</text>
<text x="350.40" y="541.30" text-anchor="middle">1200</text>
<text x="484.70" y="541.30" text-anchor="middle">1300</text>
<text x="619.00" y="541.30" text-anchor="middle">1400</text>
<text x="753.30" y="541.30" text-anchor="middle">1500</text>
<text x="887.60" y="541.30" text-anchor="middle">1600</text>
<text x="54.00" y="514.80" text-anchor="end">0</text>
<text x="54.00" y="428.30" text-anchor="end">0.5</text>
<text x="54.00" y="341.30" text-anchor="end">1</text>
<text x="54.00" y="254.40" text-anchor="end">1.5</text>
<text x="54.00" y="167.30" text-anchor="end">2</text>
<text x="54.00" y="79.80" text-anchor="end">2.5</text>
<text x="485.3" y="562.5" text-anchor="middle" font-size="23.50" letter-spacing="0.45">Sampling Point</text>
<text transform="translate(19.5,256.3) rotate(-90)" text-anchor="middle" font-size="23.2" letter-spacing="0.32">Amplitude(kV/A)</text>
</g>
<rect x="548.10" y="55.05" width="384.50" height="114.75" fill="#fff" stroke="#262626" stroke-width="1.8" stroke-linejoin="round"/>
<g font-size="21.40">
<line x1="561.2" x2="629.9" y1="76.30" y2="76.30" stroke="#0072BD" stroke-width="2.60" stroke-linecap="round"/>
<text x="642.60" y="84.20" textLength="289.30" lengthAdjust="spacing">S-terminal voltage traveling wave</text>
<line x1="561.2" x2="629.9" y1="102.90" y2="102.90" stroke="#7E2F8E" stroke-width="2.60" stroke-linecap="round"/>
<text x="643.80" y="110.00" textLength="288.10" lengthAdjust="spacing">S-terminal current traveling wave</text>
<line x1="561.2" x2="629.9" y1="129.60" y2="129.60" stroke="#FF0000" stroke-width="2.60" stroke-linecap="round"/>
<text x="641.20" y="137.40" textLength="290.70" lengthAdjust="spacing">R-terminal voltage traveling wave</text>
<line x1="561.2" x2="629.9" y1="156.40" y2="156.40" stroke="#B8860B" stroke-width="2.60" stroke-linecap="round"/>
<text x="642.10" y="164.10" textLength="289.80" lengthAdjust="spacing">R-terminal current traveling wave</text>
</g>
</svg></body></html>
